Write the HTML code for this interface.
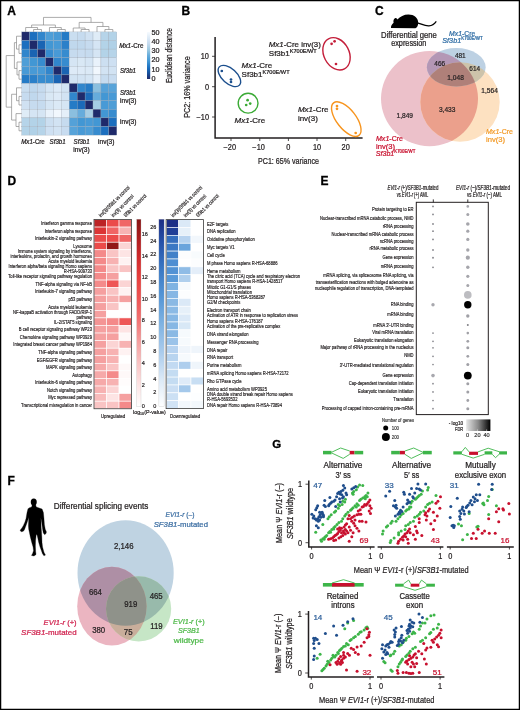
<!DOCTYPE html>
<html><head><meta charset="utf-8"><style>
html,body{margin:0;padding:0;background:#fff;overflow:hidden;width:520px;height:710px;}
svg{display:block;will-change:transform;}
text{font-family:"Liberation Sans",sans-serif;}
</style></head><body>
<svg width="520" height="710" viewBox="0 0 520 710" font-family="Liberation Sans, sans-serif" fill="#231f20">
<rect x="0" y="0" width="520" height="710" fill="#fff"/>
<text x="7.20" y="14.70" font-size="12" font-weight="bold" fill="#000" stroke="#000" stroke-width="0.3">A</text>
<rect x="21.70" y="31.90" width="7.92" height="8.60" fill="#1f2a6b" stroke="#97a3b0" stroke-width="0.28"/>
<rect x="29.62" y="31.90" width="7.92" height="8.60" fill="#1c6fbf" stroke="#97a3b0" stroke-width="0.28"/>
<rect x="37.55" y="31.90" width="7.92" height="8.60" fill="#3186cc" stroke="#97a3b0" stroke-width="0.28"/>
<rect x="45.47" y="31.90" width="7.92" height="8.60" fill="#4e9ed7" stroke="#97a3b0" stroke-width="0.28"/>
<rect x="53.40" y="31.90" width="7.92" height="8.60" fill="#489ad6" stroke="#97a3b0" stroke-width="0.28"/>
<rect x="61.33" y="31.90" width="7.92" height="8.60" fill="#257bc6" stroke="#97a3b0" stroke-width="0.28"/>
<rect x="69.25" y="31.90" width="7.92" height="8.60" fill="#cadef0" stroke="#97a3b0" stroke-width="0.28"/>
<rect x="77.17" y="31.90" width="7.92" height="8.60" fill="#c6dbef" stroke="#97a3b0" stroke-width="0.28"/>
<rect x="85.10" y="31.90" width="7.92" height="8.60" fill="#d0e1f2" stroke="#97a3b0" stroke-width="0.28"/>
<rect x="93.03" y="31.90" width="7.92" height="8.60" fill="#dfecf7" stroke="#97a3b0" stroke-width="0.28"/>
<rect x="100.95" y="31.90" width="7.92" height="8.60" fill="#b6d4e9" stroke="#97a3b0" stroke-width="0.28"/>
<rect x="108.88" y="31.90" width="7.92" height="8.60" fill="#b3d3e8" stroke="#97a3b0" stroke-width="0.28"/>
<rect x="21.70" y="40.50" width="7.92" height="8.60" fill="#1c6fbf" stroke="#97a3b0" stroke-width="0.28"/>
<rect x="29.62" y="40.50" width="7.92" height="8.60" fill="#1f2a6b" stroke="#97a3b0" stroke-width="0.28"/>
<rect x="37.55" y="40.50" width="7.92" height="8.60" fill="#1a64b3" stroke="#97a3b0" stroke-width="0.28"/>
<rect x="45.47" y="40.50" width="7.92" height="8.60" fill="#4297d4" stroke="#97a3b0" stroke-width="0.28"/>
<rect x="53.40" y="40.50" width="7.92" height="8.60" fill="#489ad6" stroke="#97a3b0" stroke-width="0.28"/>
<rect x="61.33" y="40.50" width="7.92" height="8.60" fill="#2b80c9" stroke="#97a3b0" stroke-width="0.28"/>
<rect x="69.25" y="40.50" width="7.92" height="8.60" fill="#c0d8ed" stroke="#97a3b0" stroke-width="0.28"/>
<rect x="77.17" y="40.50" width="7.92" height="8.60" fill="#c0d8ed" stroke="#97a3b0" stroke-width="0.28"/>
<rect x="85.10" y="40.50" width="7.92" height="8.60" fill="#c6dbef" stroke="#97a3b0" stroke-width="0.28"/>
<rect x="93.03" y="40.50" width="7.92" height="8.60" fill="#d5e5f4" stroke="#97a3b0" stroke-width="0.28"/>
<rect x="100.95" y="40.50" width="7.92" height="8.60" fill="#b3d3e8" stroke="#97a3b0" stroke-width="0.28"/>
<rect x="108.88" y="40.50" width="7.92" height="8.60" fill="#b0d1e7" stroke="#97a3b0" stroke-width="0.28"/>
<rect x="21.70" y="49.10" width="7.92" height="8.60" fill="#3186cc" stroke="#97a3b0" stroke-width="0.28"/>
<rect x="29.62" y="49.10" width="7.92" height="8.60" fill="#1a64b3" stroke="#97a3b0" stroke-width="0.28"/>
<rect x="37.55" y="49.10" width="7.92" height="8.60" fill="#1f2a6b" stroke="#97a3b0" stroke-width="0.28"/>
<rect x="45.47" y="49.10" width="7.92" height="8.60" fill="#378ccf" stroke="#97a3b0" stroke-width="0.28"/>
<rect x="53.40" y="49.10" width="7.92" height="8.60" fill="#489ad6" stroke="#97a3b0" stroke-width="0.28"/>
<rect x="61.33" y="49.10" width="7.92" height="8.60" fill="#378ccf" stroke="#97a3b0" stroke-width="0.28"/>
<rect x="69.25" y="49.10" width="7.92" height="8.60" fill="#c6dbef" stroke="#97a3b0" stroke-width="0.28"/>
<rect x="77.17" y="49.10" width="7.92" height="8.60" fill="#c8dcf0" stroke="#97a3b0" stroke-width="0.28"/>
<rect x="85.10" y="49.10" width="7.92" height="8.60" fill="#c6dbef" stroke="#97a3b0" stroke-width="0.28"/>
<rect x="93.03" y="49.10" width="7.92" height="8.60" fill="#d5e5f4" stroke="#97a3b0" stroke-width="0.28"/>
<rect x="100.95" y="49.10" width="7.92" height="8.60" fill="#b3d3e8" stroke="#97a3b0" stroke-width="0.28"/>
<rect x="108.88" y="49.10" width="7.92" height="8.60" fill="#b6d4e9" stroke="#97a3b0" stroke-width="0.28"/>
<rect x="21.70" y="57.70" width="7.92" height="8.60" fill="#4e9ed7" stroke="#97a3b0" stroke-width="0.28"/>
<rect x="29.62" y="57.70" width="7.92" height="8.60" fill="#4297d4" stroke="#97a3b0" stroke-width="0.28"/>
<rect x="37.55" y="57.70" width="7.92" height="8.60" fill="#378ccf" stroke="#97a3b0" stroke-width="0.28"/>
<rect x="45.47" y="57.70" width="7.92" height="8.60" fill="#1f2a6b" stroke="#97a3b0" stroke-width="0.28"/>
<rect x="53.40" y="57.70" width="7.92" height="8.60" fill="#3186cc" stroke="#97a3b0" stroke-width="0.28"/>
<rect x="61.33" y="57.70" width="7.92" height="8.60" fill="#378ccf" stroke="#97a3b0" stroke-width="0.28"/>
<rect x="69.25" y="57.70" width="7.92" height="8.60" fill="#d5e5f4" stroke="#97a3b0" stroke-width="0.28"/>
<rect x="77.17" y="57.70" width="7.92" height="8.60" fill="#d9e8f5" stroke="#97a3b0" stroke-width="0.28"/>
<rect x="85.10" y="57.70" width="7.92" height="8.60" fill="#d5e5f4" stroke="#97a3b0" stroke-width="0.28"/>
<rect x="93.03" y="57.70" width="7.92" height="8.60" fill="#e9f2fb" stroke="#97a3b0" stroke-width="0.28"/>
<rect x="100.95" y="57.70" width="7.92" height="8.60" fill="#ccdff1" stroke="#97a3b0" stroke-width="0.28"/>
<rect x="108.88" y="57.70" width="7.92" height="8.60" fill="#cee0f2" stroke="#97a3b0" stroke-width="0.28"/>
<rect x="21.70" y="66.30" width="7.92" height="8.60" fill="#489ad6" stroke="#97a3b0" stroke-width="0.28"/>
<rect x="29.62" y="66.30" width="7.92" height="8.60" fill="#489ad6" stroke="#97a3b0" stroke-width="0.28"/>
<rect x="37.55" y="66.30" width="7.92" height="8.60" fill="#489ad6" stroke="#97a3b0" stroke-width="0.28"/>
<rect x="45.47" y="66.30" width="7.92" height="8.60" fill="#3186cc" stroke="#97a3b0" stroke-width="0.28"/>
<rect x="53.40" y="66.30" width="7.92" height="8.60" fill="#1f2a6b" stroke="#97a3b0" stroke-width="0.28"/>
<rect x="61.33" y="66.30" width="7.92" height="8.60" fill="#1a64b3" stroke="#97a3b0" stroke-width="0.28"/>
<rect x="69.25" y="66.30" width="7.92" height="8.60" fill="#ddeaf7" stroke="#97a3b0" stroke-width="0.28"/>
<rect x="77.17" y="66.30" width="7.92" height="8.60" fill="#ddeaf7" stroke="#97a3b0" stroke-width="0.28"/>
<rect x="85.10" y="66.30" width="7.92" height="8.60" fill="#dbe9f6" stroke="#97a3b0" stroke-width="0.28"/>
<rect x="93.03" y="66.30" width="7.92" height="8.60" fill="#f1f7fd" stroke="#97a3b0" stroke-width="0.28"/>
<rect x="100.95" y="66.30" width="7.92" height="8.60" fill="#d2e3f3" stroke="#97a3b0" stroke-width="0.28"/>
<rect x="108.88" y="66.30" width="7.92" height="8.60" fill="#d2e3f3" stroke="#97a3b0" stroke-width="0.28"/>
<rect x="21.70" y="74.90" width="7.92" height="8.60" fill="#257bc6" stroke="#97a3b0" stroke-width="0.28"/>
<rect x="29.62" y="74.90" width="7.92" height="8.60" fill="#2b80c9" stroke="#97a3b0" stroke-width="0.28"/>
<rect x="37.55" y="74.90" width="7.92" height="8.60" fill="#378ccf" stroke="#97a3b0" stroke-width="0.28"/>
<rect x="45.47" y="74.90" width="7.92" height="8.60" fill="#378ccf" stroke="#97a3b0" stroke-width="0.28"/>
<rect x="53.40" y="74.90" width="7.92" height="8.60" fill="#1a64b3" stroke="#97a3b0" stroke-width="0.28"/>
<rect x="61.33" y="74.90" width="7.92" height="8.60" fill="#1f2a6b" stroke="#97a3b0" stroke-width="0.28"/>
<rect x="69.25" y="74.90" width="7.92" height="8.60" fill="#d2e3f3" stroke="#97a3b0" stroke-width="0.28"/>
<rect x="77.17" y="74.90" width="7.92" height="8.60" fill="#d2e3f3" stroke="#97a3b0" stroke-width="0.28"/>
<rect x="85.10" y="74.90" width="7.92" height="8.60" fill="#d5e5f4" stroke="#97a3b0" stroke-width="0.28"/>
<rect x="93.03" y="74.90" width="7.92" height="8.60" fill="#e5eff9" stroke="#97a3b0" stroke-width="0.28"/>
<rect x="100.95" y="74.90" width="7.92" height="8.60" fill="#c6dbef" stroke="#97a3b0" stroke-width="0.28"/>
<rect x="108.88" y="74.90" width="7.92" height="8.60" fill="#c8dcf0" stroke="#97a3b0" stroke-width="0.28"/>
<rect x="21.70" y="83.50" width="7.92" height="8.60" fill="#cadef0" stroke="#97a3b0" stroke-width="0.28"/>
<rect x="29.62" y="83.50" width="7.92" height="8.60" fill="#c0d8ed" stroke="#97a3b0" stroke-width="0.28"/>
<rect x="37.55" y="83.50" width="7.92" height="8.60" fill="#c6dbef" stroke="#97a3b0" stroke-width="0.28"/>
<rect x="45.47" y="83.50" width="7.92" height="8.60" fill="#d5e5f4" stroke="#97a3b0" stroke-width="0.28"/>
<rect x="53.40" y="83.50" width="7.92" height="8.60" fill="#ddeaf7" stroke="#97a3b0" stroke-width="0.28"/>
<rect x="61.33" y="83.50" width="7.92" height="8.60" fill="#d2e3f3" stroke="#97a3b0" stroke-width="0.28"/>
<rect x="69.25" y="83.50" width="7.92" height="8.60" fill="#1f2a6b" stroke="#97a3b0" stroke-width="0.28"/>
<rect x="77.17" y="83.50" width="7.92" height="8.60" fill="#3186cc" stroke="#97a3b0" stroke-width="0.28"/>
<rect x="85.10" y="83.50" width="7.92" height="8.60" fill="#257bc6" stroke="#97a3b0" stroke-width="0.28"/>
<rect x="93.03" y="83.50" width="7.92" height="8.60" fill="#8abfdf" stroke="#97a3b0" stroke-width="0.28"/>
<rect x="100.95" y="83.50" width="7.92" height="8.60" fill="#54a1d8" stroke="#97a3b0" stroke-width="0.28"/>
<rect x="108.88" y="83.50" width="7.92" height="8.60" fill="#57a3d9" stroke="#97a3b0" stroke-width="0.28"/>
<rect x="21.70" y="92.10" width="7.92" height="8.60" fill="#c6dbef" stroke="#97a3b0" stroke-width="0.28"/>
<rect x="29.62" y="92.10" width="7.92" height="8.60" fill="#c0d8ed" stroke="#97a3b0" stroke-width="0.28"/>
<rect x="37.55" y="92.10" width="7.92" height="8.60" fill="#c8dcf0" stroke="#97a3b0" stroke-width="0.28"/>
<rect x="45.47" y="92.10" width="7.92" height="8.60" fill="#d9e8f5" stroke="#97a3b0" stroke-width="0.28"/>
<rect x="53.40" y="92.10" width="7.92" height="8.60" fill="#ddeaf7" stroke="#97a3b0" stroke-width="0.28"/>
<rect x="61.33" y="92.10" width="7.92" height="8.60" fill="#d2e3f3" stroke="#97a3b0" stroke-width="0.28"/>
<rect x="69.25" y="92.10" width="7.92" height="8.60" fill="#3186cc" stroke="#97a3b0" stroke-width="0.28"/>
<rect x="77.17" y="92.10" width="7.92" height="8.60" fill="#1f2a6b" stroke="#97a3b0" stroke-width="0.28"/>
<rect x="85.10" y="92.10" width="7.92" height="8.60" fill="#1b6ab9" stroke="#97a3b0" stroke-width="0.28"/>
<rect x="93.03" y="92.10" width="7.92" height="8.60" fill="#66acdc" stroke="#97a3b0" stroke-width="0.28"/>
<rect x="100.95" y="92.10" width="7.92" height="8.60" fill="#4297d4" stroke="#97a3b0" stroke-width="0.28"/>
<rect x="108.88" y="92.10" width="7.92" height="8.60" fill="#489ad6" stroke="#97a3b0" stroke-width="0.28"/>
<rect x="21.70" y="100.70" width="7.92" height="8.60" fill="#d0e1f2" stroke="#97a3b0" stroke-width="0.28"/>
<rect x="29.62" y="100.70" width="7.92" height="8.60" fill="#c6dbef" stroke="#97a3b0" stroke-width="0.28"/>
<rect x="37.55" y="100.70" width="7.92" height="8.60" fill="#c6dbef" stroke="#97a3b0" stroke-width="0.28"/>
<rect x="45.47" y="100.70" width="7.92" height="8.60" fill="#d5e5f4" stroke="#97a3b0" stroke-width="0.28"/>
<rect x="53.40" y="100.70" width="7.92" height="8.60" fill="#dbe9f6" stroke="#97a3b0" stroke-width="0.28"/>
<rect x="61.33" y="100.70" width="7.92" height="8.60" fill="#d5e5f4" stroke="#97a3b0" stroke-width="0.28"/>
<rect x="69.25" y="100.70" width="7.92" height="8.60" fill="#257bc6" stroke="#97a3b0" stroke-width="0.28"/>
<rect x="77.17" y="100.70" width="7.92" height="8.60" fill="#1b6ab9" stroke="#97a3b0" stroke-width="0.28"/>
<rect x="85.10" y="100.70" width="7.92" height="8.60" fill="#1f2a6b" stroke="#97a3b0" stroke-width="0.28"/>
<rect x="93.03" y="100.70" width="7.92" height="8.60" fill="#a6cde4" stroke="#97a3b0" stroke-width="0.28"/>
<rect x="100.95" y="100.70" width="7.92" height="8.60" fill="#489ad6" stroke="#97a3b0" stroke-width="0.28"/>
<rect x="108.88" y="100.70" width="7.92" height="8.60" fill="#4e9ed7" stroke="#97a3b0" stroke-width="0.28"/>
<rect x="21.70" y="109.30" width="7.92" height="8.60" fill="#dfecf7" stroke="#97a3b0" stroke-width="0.28"/>
<rect x="29.62" y="109.30" width="7.92" height="8.60" fill="#d5e5f4" stroke="#97a3b0" stroke-width="0.28"/>
<rect x="37.55" y="109.30" width="7.92" height="8.60" fill="#d5e5f4" stroke="#97a3b0" stroke-width="0.28"/>
<rect x="45.47" y="109.30" width="7.92" height="8.60" fill="#e9f2fb" stroke="#97a3b0" stroke-width="0.28"/>
<rect x="53.40" y="109.30" width="7.92" height="8.60" fill="#f1f7fd" stroke="#97a3b0" stroke-width="0.28"/>
<rect x="61.33" y="109.30" width="7.92" height="8.60" fill="#e5eff9" stroke="#97a3b0" stroke-width="0.28"/>
<rect x="69.25" y="109.30" width="7.92" height="8.60" fill="#8abfdf" stroke="#97a3b0" stroke-width="0.28"/>
<rect x="77.17" y="109.30" width="7.92" height="8.60" fill="#66acdc" stroke="#97a3b0" stroke-width="0.28"/>
<rect x="85.10" y="109.30" width="7.92" height="8.60" fill="#a6cde4" stroke="#97a3b0" stroke-width="0.28"/>
<rect x="93.03" y="109.30" width="7.92" height="8.60" fill="#1f2a6b" stroke="#97a3b0" stroke-width="0.28"/>
<rect x="100.95" y="109.30" width="7.92" height="8.60" fill="#4297d4" stroke="#97a3b0" stroke-width="0.28"/>
<rect x="108.88" y="109.30" width="7.92" height="8.60" fill="#378ccf" stroke="#97a3b0" stroke-width="0.28"/>
<rect x="21.70" y="117.90" width="7.92" height="8.60" fill="#b6d4e9" stroke="#97a3b0" stroke-width="0.28"/>
<rect x="29.62" y="117.90" width="7.92" height="8.60" fill="#b3d3e8" stroke="#97a3b0" stroke-width="0.28"/>
<rect x="37.55" y="117.90" width="7.92" height="8.60" fill="#b3d3e8" stroke="#97a3b0" stroke-width="0.28"/>
<rect x="45.47" y="117.90" width="7.92" height="8.60" fill="#ccdff1" stroke="#97a3b0" stroke-width="0.28"/>
<rect x="53.40" y="117.90" width="7.92" height="8.60" fill="#d2e3f3" stroke="#97a3b0" stroke-width="0.28"/>
<rect x="61.33" y="117.90" width="7.92" height="8.60" fill="#c6dbef" stroke="#97a3b0" stroke-width="0.28"/>
<rect x="69.25" y="117.90" width="7.92" height="8.60" fill="#54a1d8" stroke="#97a3b0" stroke-width="0.28"/>
<rect x="77.17" y="117.90" width="7.92" height="8.60" fill="#4297d4" stroke="#97a3b0" stroke-width="0.28"/>
<rect x="85.10" y="117.90" width="7.92" height="8.60" fill="#489ad6" stroke="#97a3b0" stroke-width="0.28"/>
<rect x="93.03" y="117.90" width="7.92" height="8.60" fill="#4297d4" stroke="#97a3b0" stroke-width="0.28"/>
<rect x="100.95" y="117.90" width="7.92" height="8.60" fill="#1f2a6b" stroke="#97a3b0" stroke-width="0.28"/>
<rect x="108.88" y="117.90" width="7.92" height="8.60" fill="#1c6fbf" stroke="#97a3b0" stroke-width="0.28"/>
<rect x="21.70" y="126.50" width="7.92" height="8.60" fill="#b3d3e8" stroke="#97a3b0" stroke-width="0.28"/>
<rect x="29.62" y="126.50" width="7.92" height="8.60" fill="#b0d1e7" stroke="#97a3b0" stroke-width="0.28"/>
<rect x="37.55" y="126.50" width="7.92" height="8.60" fill="#b6d4e9" stroke="#97a3b0" stroke-width="0.28"/>
<rect x="45.47" y="126.50" width="7.92" height="8.60" fill="#cee0f2" stroke="#97a3b0" stroke-width="0.28"/>
<rect x="53.40" y="126.50" width="7.92" height="8.60" fill="#d2e3f3" stroke="#97a3b0" stroke-width="0.28"/>
<rect x="61.33" y="126.50" width="7.92" height="8.60" fill="#c8dcf0" stroke="#97a3b0" stroke-width="0.28"/>
<rect x="69.25" y="126.50" width="7.92" height="8.60" fill="#57a3d9" stroke="#97a3b0" stroke-width="0.28"/>
<rect x="77.17" y="126.50" width="7.92" height="8.60" fill="#489ad6" stroke="#97a3b0" stroke-width="0.28"/>
<rect x="85.10" y="126.50" width="7.92" height="8.60" fill="#4e9ed7" stroke="#97a3b0" stroke-width="0.28"/>
<rect x="93.03" y="126.50" width="7.92" height="8.60" fill="#378ccf" stroke="#97a3b0" stroke-width="0.28"/>
<rect x="100.95" y="126.50" width="7.92" height="8.60" fill="#1c6fbf" stroke="#97a3b0" stroke-width="0.28"/>
<rect x="108.88" y="126.50" width="7.92" height="8.60" fill="#1f2a6b" stroke="#97a3b0" stroke-width="0.28"/>
<g stroke="#8a8a8a" stroke-width="0.7" fill="none"><path d="M33.59 31.90V29.50H41.51V31.90"/><path d="M25.66 31.90V27.50H37.55V29.50"/><path d="M57.36 31.90V29.50H65.29V31.90"/><path d="M49.44 31.90V27.50H61.32V29.50"/><path d="M31.61 27.50V25.00H55.38V27.50"/><path d="M81.14 31.90V29.50H89.06V31.90"/><path d="M73.21 31.90V28.00H85.10V29.50"/><path d="M104.91 31.90V29.50H112.84V31.90"/><path d="M96.99 31.90V26.50H108.88V29.50"/><path d="M79.16 28.00V22.40H102.93V26.50"/><path d="M43.49 25.00V17.40H91.04V22.40"/><path d="M21.70 44.80H19.00V53.40H21.70"/><path d="M21.70 36.20H16.50V49.10H19.00"/><path d="M21.70 70.60H19.00V79.20H21.70"/><path d="M21.70 62.00H17.00V74.90H19.00"/><path d="M16.50 42.65H14.40V68.45H17.00"/><path d="M21.70 96.40H19.00V105.00H21.70"/><path d="M21.70 87.80H16.50V100.70H19.00"/><path d="M21.70 122.20H19.00V130.80H21.70"/><path d="M21.70 113.60H16.00V126.50H19.00"/><path d="M16.50 94.25H11.60V120.05H16.00"/><path d="M14.40 55.55H6.20V107.15H11.60"/></g>
<text x="119.20" y="47.60" font-size="6.6" textLength="24.20" lengthAdjust="spacingAndGlyphs" stroke="#231f20" stroke-width="0.24"><tspan font-style="italic">Mx1</tspan>-Cre</text>
<text x="120.00" y="73.00" font-size="6.6" textLength="16.00" lengthAdjust="spacingAndGlyphs" stroke="#231f20" stroke-width="0.24"><tspan font-style="italic">Sf3b1</tspan></text>
<text x="120.00" y="95.40" font-size="6.6" textLength="16.00" lengthAdjust="spacingAndGlyphs" stroke="#231f20" stroke-width="0.24"><tspan font-style="italic">Sf3b1</tspan></text>
<text x="120.00" y="103.20" font-size="6.6" textLength="16.50" lengthAdjust="spacingAndGlyphs" stroke="#231f20" stroke-width="0.24">inv(3)</text>
<text x="120.00" y="124.40" font-size="6.6" textLength="16.50" lengthAdjust="spacingAndGlyphs" stroke="#231f20" stroke-width="0.24">inv(3)</text>
<text x="21.20" y="144.40" font-size="6.6" textLength="23.60" lengthAdjust="spacingAndGlyphs" stroke="#231f20" stroke-width="0.24"><tspan font-style="italic">Mx1</tspan>-Cre</text>
<text x="49.60" y="144.40" font-size="6.6" textLength="16.00" lengthAdjust="spacingAndGlyphs" stroke="#231f20" stroke-width="0.24"><tspan font-style="italic">Sf3b1</tspan></text>
<text x="73.60" y="144.40" font-size="6.6" textLength="16.00" lengthAdjust="spacingAndGlyphs" stroke="#231f20" stroke-width="0.24"><tspan font-style="italic">Sf3b1</tspan></text>
<text x="81.50" y="152.40" font-size="6.6" text-anchor="middle" textLength="16.50" lengthAdjust="spacingAndGlyphs" stroke="#231f20" stroke-width="0.24">inv(3)</text>
<text x="98.00" y="144.40" font-size="6.6" textLength="16.50" lengthAdjust="spacingAndGlyphs" stroke="#231f20" stroke-width="0.24">inv(3)</text>
<defs><linearGradient id="gA" x1="0" y1="1" x2="0" y2="0"><stop offset="0.000" stop-color="#1f2a6b"/><stop offset="0.125" stop-color="#16509d"/><stop offset="0.250" stop-color="#1c72c2"/><stop offset="0.375" stop-color="#4196d4"/><stop offset="0.500" stop-color="#66acdc"/><stop offset="0.625" stop-color="#9ecae1"/><stop offset="0.750" stop-color="#c6dbef"/><stop offset="0.875" stop-color="#deebf7"/><stop offset="1.000" stop-color="#f7fbff"/></linearGradient></defs>
<rect x="147" y="32" width="3.2" height="47" fill="url(#gA)"/>
<text x="151.60" y="81.00" font-size="7.2" stroke="#231f20" stroke-width="0.24">0</text>
<text x="151.60" y="71.70" font-size="7.2" stroke="#231f20" stroke-width="0.24">10</text>
<text x="151.60" y="62.40" font-size="7.2" stroke="#231f20" stroke-width="0.24">20</text>
<text x="151.60" y="53.10" font-size="7.2" stroke="#231f20" stroke-width="0.24">30</text>
<text x="151.60" y="43.80" font-size="7.2" stroke="#231f20" stroke-width="0.24">40</text>
<text x="151.60" y="34.50" font-size="7.2" stroke="#231f20" stroke-width="0.24">50</text>
<text x="171.80" y="55.60" font-size="8.6" text-anchor="middle" textLength="55.00" lengthAdjust="spacingAndGlyphs" transform="rotate(-90 171.80 55.60)" stroke="#231f20" stroke-width="0.24">Euclidean distance</text>
<text x="181.60" y="15.00" font-size="12" font-weight="bold" fill="#000" stroke="#000" stroke-width="0.3">B</text>
<path d="M215.1 37.0V137.9H362.6" fill="none" stroke="#231f20" stroke-width="1.5"/>
<path d="M212 56.3H215" stroke="#231f20" stroke-width="0.8"/>
<text x="209.00" y="59.30" font-size="8.4" text-anchor="end" textLength="8.22" lengthAdjust="spacingAndGlyphs" stroke="#231f20" stroke-width="0.24">10</text>
<path d="M212 86.7H215" stroke="#231f20" stroke-width="0.8"/>
<text x="209.00" y="89.70" font-size="8.4" text-anchor="end" textLength="4.11" lengthAdjust="spacingAndGlyphs" stroke="#231f20" stroke-width="0.24">0</text>
<path d="M212 117.0H215" stroke="#231f20" stroke-width="0.8"/>
<text x="209.00" y="120.00" font-size="8.4" text-anchor="end" textLength="12.54" lengthAdjust="spacingAndGlyphs" stroke="#231f20" stroke-width="0.24">−10</text>
<path d="M231.0 138.2V141" stroke="#231f20" stroke-width="0.8"/>
<text x="229.80" y="150.40" font-size="8.4" text-anchor="middle" textLength="12.54" lengthAdjust="spacingAndGlyphs" stroke="#231f20" stroke-width="0.24">−20</text>
<path d="M259.8 138.2V141" stroke="#231f20" stroke-width="0.8"/>
<text x="258.60" y="150.40" font-size="8.4" text-anchor="middle" textLength="12.54" lengthAdjust="spacingAndGlyphs" stroke="#231f20" stroke-width="0.24">−10</text>
<path d="M288.4 138.2V141" stroke="#231f20" stroke-width="0.8"/>
<text x="288.40" y="150.40" font-size="8.4" text-anchor="middle" textLength="4.11" lengthAdjust="spacingAndGlyphs" stroke="#231f20" stroke-width="0.24">0</text>
<path d="M317.0 138.2V141" stroke="#231f20" stroke-width="0.8"/>
<text x="317.00" y="150.40" font-size="8.4" text-anchor="middle" textLength="8.22" lengthAdjust="spacingAndGlyphs" stroke="#231f20" stroke-width="0.24">10</text>
<path d="M345.7 138.2V141" stroke="#231f20" stroke-width="0.8"/>
<text x="345.70" y="150.40" font-size="8.4" text-anchor="middle" textLength="8.22" lengthAdjust="spacingAndGlyphs" stroke="#231f20" stroke-width="0.24">20</text>
<text x="258.00" y="163.60" font-size="8.8" textLength="60.90" lengthAdjust="spacingAndGlyphs" stroke="#231f20" stroke-width="0.24">PC1: 65% variance</text>
<text x="189.80" y="87.00" font-size="8.8" text-anchor="middle" textLength="61.30" lengthAdjust="spacingAndGlyphs" transform="rotate(-90 189.80 87.00)" stroke="#231f20" stroke-width="0.24">PC2: 16% variance</text>
<ellipse cx="229.4" cy="76" rx="13.6" ry="7.4" transform="rotate(42 229.4 76)" fill="none" stroke="#1c4f8d" stroke-width="1.4"/>
<circle cx="248.1" cy="103.2" r="9.9" fill="none" stroke="#3aaa35" stroke-width="1.4"/>
<ellipse cx="336.5" cy="53.8" rx="17" ry="12.6" transform="rotate(62 336.5 53.8)" fill="none" stroke="#c41e3a" stroke-width="1.4"/>
<ellipse cx="346.3" cy="119.1" rx="20.6" ry="9.6" transform="rotate(52 346.3 119.1)" fill="none" stroke="#f7941d" stroke-width="1.4"/>
<circle cx="221.8" cy="71.0" r="1.35" fill="#1c4f8d"/>
<circle cx="231.0" cy="79.5" r="1.35" fill="#1c4f8d"/>
<circle cx="231.0" cy="82.0" r="1.35" fill="#1c4f8d"/>
<circle cx="247.6" cy="100.2" r="1.35" fill="#3aaa35"/>
<circle cx="246.2" cy="105.0" r="1.35" fill="#3aaa35"/>
<circle cx="250.2" cy="103.6" r="1.35" fill="#3aaa35"/>
<circle cx="331.6" cy="43.8" r="1.35" fill="#c41e3a"/>
<circle cx="334.6" cy="41.3" r="1.35" fill="#c41e3a"/>
<circle cx="336.0" cy="64.0" r="1.35" fill="#c41e3a"/>
<circle cx="337.0" cy="106.0" r="1.35" fill="#f7941d"/>
<circle cx="337.0" cy="108.8" r="1.35" fill="#f7941d"/>
<circle cx="355.7" cy="133.0" r="1.35" fill="#f7941d"/>
<text x="241.60" y="67.80" font-size="8.0" textLength="30.60" lengthAdjust="spacingAndGlyphs" stroke="#231f20" stroke-width="0.24"><tspan font-style="italic">Mx1</tspan>-Cre</text>
<text x="241.60" y="77.20" font-size="8.0" stroke="#231f20" stroke-width="0.24">Sf3b1<tspan dy="-3.2" font-size="5.6">K700E/WT</tspan></text>
<text x="268.80" y="46.60" font-size="8.0" textLength="52.00" lengthAdjust="spacingAndGlyphs" stroke="#231f20" stroke-width="0.24"><tspan font-style="italic">Mx1</tspan>-Cre inv(3)</text>
<text x="268.80" y="55.80" font-size="8.0" stroke="#231f20" stroke-width="0.24">Sf3b1<tspan dy="-3.2" font-size="5.6">K700E/WT</tspan></text>
<text x="297.90" y="111.60" font-size="8.0" textLength="30.60" lengthAdjust="spacingAndGlyphs" stroke="#231f20" stroke-width="0.24"><tspan font-style="italic">Mx1</tspan>-Cre</text>
<text x="297.90" y="121.40" font-size="8.0" stroke="#231f20" stroke-width="0.24">inv(3)</text>
<text x="234.60" y="122.80" font-size="8.0" textLength="30.60" lengthAdjust="spacingAndGlyphs" stroke="#231f20" stroke-width="0.24"><tspan font-style="italic">Mx1</tspan>-Cre</text>
<text x="375.00" y="14.80" font-size="12" font-weight="bold" fill="#000" stroke="#000" stroke-width="0.3">C</text>
<path d="M391.0 28.0 C390.8 26.2 391.8 24.3 393.6 22.8 C393.2 21.2 393.4 19.0 395.0 18.2 C396.2 17.7 397.2 18.6 397.4 19.6 C400.0 16.6 404.0 14.6 408.4 14.6 C414.2 14.6 418.0 18.0 418.2 22.6 C418.3 25.6 417.2 27.6 415.4 28.3 Z" fill="#000"/>
<path d="M417.2 22.8 C421.0 23.6 424.4 26.2 429.0 25.9 C432.2 25.7 434.6 23.8 436.3 21.4" fill="none" stroke="#000" stroke-width="1.2"/>
<text x="409.00" y="37.80" font-size="8.2" text-anchor="middle" textLength="55.80" lengthAdjust="spacingAndGlyphs" stroke="#231f20" stroke-width="0.24">Differential gene</text>
<text x="408.80" y="46.20" font-size="8.2" text-anchor="middle" textLength="35.30" lengthAdjust="spacingAndGlyphs" stroke="#231f20" stroke-width="0.24">expression</text>
<defs><clipPath id="cP"><ellipse cx="429.5" cy="98.6" rx="48.5" ry="47.6"/></clipPath><clipPath id="cO"><circle cx="460.0" cy="102.0" r="39.7"/></clipPath><clipPath id="cB"><ellipse cx="456.25" cy="67.3" rx="29.4" ry="19.2"/></clipPath></defs>
<ellipse cx="429.5" cy="98.6" rx="48.5" ry="47.6" fill="#ecc1ca"/>
<circle cx="460.0" cy="102.0" r="39.7" fill="#fde1c1"/>
<ellipse cx="456.25" cy="67.3" rx="29.4" ry="19.2" fill="#bdd1e3"/>
<g clip-path="url(#cP)"><circle cx="460.0" cy="102.0" r="39.7" fill="#eba08c"/><ellipse cx="456.25" cy="67.3" rx="29.4" ry="19.2" fill="#b497b5"/></g>
<g clip-path="url(#cO)"><ellipse cx="456.25" cy="67.3" rx="29.4" ry="19.2" fill="#cdc3aa"/></g>
<g clip-path="url(#cO)"><g clip-path="url(#cP)"><ellipse cx="456.25" cy="67.3" rx="29.4" ry="19.2" fill="#af8079"/></g></g>
<text x="460.30" y="57.65" font-size="8.0" text-anchor="middle" textLength="10.80" lengthAdjust="spacingAndGlyphs" stroke="#231f20" stroke-width="0.24">481</text>
<text x="439.75" y="65.65" font-size="8.0" text-anchor="middle" textLength="10.80" lengthAdjust="spacingAndGlyphs" stroke="#231f20" stroke-width="0.24">466</text>
<text x="474.75" y="71.00" font-size="8.0" text-anchor="middle" textLength="10.80" lengthAdjust="spacingAndGlyphs" stroke="#231f20" stroke-width="0.24">614</text>
<text x="455.60" y="79.80" font-size="8.0" text-anchor="middle" textLength="16.50" lengthAdjust="spacingAndGlyphs" stroke="#231f20" stroke-width="0.24">1,048</text>
<text x="489.60" y="92.50" font-size="8.0" text-anchor="middle" textLength="16.50" lengthAdjust="spacingAndGlyphs" stroke="#231f20" stroke-width="0.24">1,564</text>
<text x="447.20" y="111.50" font-size="8.0" text-anchor="middle" textLength="16.50" lengthAdjust="spacingAndGlyphs" stroke="#231f20" stroke-width="0.24">3,433</text>
<text x="404.80" y="118.30" font-size="8.0" text-anchor="middle" textLength="16.50" lengthAdjust="spacingAndGlyphs" stroke="#231f20" stroke-width="0.24">1,849</text>
<text x="462.20" y="36.30" font-size="7.8" text-anchor="middle" fill="#2e6ca4" textLength="26.20" lengthAdjust="spacingAndGlyphs" stroke="#2e6ca4" stroke-width="0.24"><tspan font-style="italic">Mx1</tspan>-Cre</text>
<text x="442.30" y="43.40" font-size="7.8" fill="#2e6ca4" textLength="40.40" lengthAdjust="spacingAndGlyphs" stroke="#2e6ca4" stroke-width="0.24"><tspan font-style="italic">Sf3b1</tspan><tspan dy="-3.0" font-size="4.8">K700E/WT</tspan></text>
<text x="376.00" y="140.80" font-size="7.6" fill="#c8102e" textLength="27.00" lengthAdjust="spacingAndGlyphs" stroke="#c8102e" stroke-width="0.24"><tspan font-style="italic">Mx1</tspan>-Cre</text>
<text x="376.00" y="148.80" font-size="7.6" fill="#c8102e" stroke="#c8102e" stroke-width="0.24">inv(3)</text>
<text x="375.80" y="156.00" font-size="7.8" fill="#c8102e" textLength="39.50" lengthAdjust="spacingAndGlyphs" stroke="#c8102e" stroke-width="0.24"><tspan font-style="italic">Sf3b1</tspan><tspan dy="-3.0" font-size="4.8">K700E/WT</tspan></text>
<text x="486.00" y="134.40" font-size="7.6" fill="#f39c2b" textLength="27.00" lengthAdjust="spacingAndGlyphs" stroke="#f39c2b" stroke-width="0.24"><tspan font-style="italic">Mx1</tspan>-Cre</text>
<text x="486.00" y="142.20" font-size="7.6" fill="#f39c2b" stroke="#f39c2b" stroke-width="0.24">inv(3)</text>
<text x="7.40" y="184.80" font-size="12" font-weight="bold" fill="#000" stroke="#000" stroke-width="0.3">D</text>
<rect x="94.00" y="219.50" width="12.52" height="7.57" fill="#bc2325" stroke="#fff" stroke-width="0.6"/>
<rect x="106.52" y="219.50" width="12.52" height="7.57" fill="#eb4b4a" stroke="#fff" stroke-width="0.6"/>
<rect x="119.04" y="219.50" width="12.52" height="7.57" fill="#f06565" stroke="#fff" stroke-width="0.6"/>
<rect x="94.00" y="227.07" width="12.52" height="7.57" fill="#dc3535" stroke="#fff" stroke-width="0.6"/>
<rect x="106.52" y="227.07" width="12.52" height="7.57" fill="#f06565" stroke="#fff" stroke-width="0.6"/>
<rect x="119.04" y="227.07" width="12.52" height="7.57" fill="#f7b2b2" stroke="#fff" stroke-width="0.6"/>
<rect x="94.00" y="234.64" width="12.52" height="7.57" fill="#eb4b4a" stroke="#fff" stroke-width="0.6"/>
<rect x="106.52" y="234.64" width="12.52" height="7.57" fill="#eb4b4a" stroke="#fff" stroke-width="0.6"/>
<rect x="119.04" y="234.64" width="12.52" height="7.57" fill="#f06565" stroke="#fff" stroke-width="0.6"/>
<rect x="94.00" y="242.21" width="12.52" height="7.57" fill="#eb4b4a" stroke="#fff" stroke-width="0.6"/>
<rect x="106.52" y="242.21" width="12.52" height="7.57" fill="#911717" stroke="#fff" stroke-width="0.6"/>
<rect x="119.04" y="242.21" width="12.52" height="7.57" fill="#fbd4d4" stroke="#fff" stroke-width="0.6"/>
<rect x="94.00" y="249.78" width="12.52" height="7.57" fill="#f48a8a" stroke="#fff" stroke-width="0.6"/>
<rect x="106.52" y="249.78" width="12.52" height="7.57" fill="#f9c4c4" stroke="#fff" stroke-width="0.6"/>
<rect x="119.04" y="249.78" width="12.52" height="7.57" fill="#fde4e4" stroke="#fff" stroke-width="0.6"/>
<rect x="94.00" y="257.35" width="12.52" height="7.57" fill="#f48a8a" stroke="#fff" stroke-width="0.6"/>
<rect x="106.52" y="257.35" width="12.52" height="7.57" fill="#f7b2b2" stroke="#fff" stroke-width="0.6"/>
<rect x="119.04" y="257.35" width="12.52" height="7.57" fill="#fef2f2" stroke="#fff" stroke-width="0.6"/>
<rect x="94.00" y="264.92" width="12.52" height="7.57" fill="#f48a8a" stroke="#fff" stroke-width="0.6"/>
<rect x="106.52" y="264.92" width="12.52" height="7.57" fill="#f9c4c4" stroke="#fff" stroke-width="0.6"/>
<rect x="119.04" y="264.92" width="12.52" height="7.57" fill="#f9c4c4" stroke="#fff" stroke-width="0.6"/>
<rect x="94.00" y="272.49" width="12.52" height="7.57" fill="#f48a8a" stroke="#fff" stroke-width="0.6"/>
<rect x="106.52" y="272.49" width="12.52" height="7.57" fill="#f5a0a0" stroke="#fff" stroke-width="0.6"/>
<rect x="119.04" y="272.49" width="12.52" height="7.57" fill="#ffffff" stroke="#fff" stroke-width="0.6"/>
<rect x="94.00" y="280.06" width="12.52" height="7.57" fill="#f48a8a" stroke="#fff" stroke-width="0.6"/>
<rect x="106.52" y="280.06" width="12.52" height="7.57" fill="#ee5656" stroke="#fff" stroke-width="0.6"/>
<rect x="119.04" y="280.06" width="12.52" height="7.57" fill="#fbd4d4" stroke="#fff" stroke-width="0.6"/>
<rect x="94.00" y="287.63" width="12.52" height="7.57" fill="#f5a0a0" stroke="#fff" stroke-width="0.6"/>
<rect x="106.52" y="287.63" width="12.52" height="7.57" fill="#f9c4c4" stroke="#fff" stroke-width="0.6"/>
<rect x="119.04" y="287.63" width="12.52" height="7.57" fill="#fef2f2" stroke="#fff" stroke-width="0.6"/>
<rect x="94.00" y="295.20" width="12.52" height="7.57" fill="#f5a0a0" stroke="#fff" stroke-width="0.6"/>
<rect x="106.52" y="295.20" width="12.52" height="7.57" fill="#f7b2b2" stroke="#fff" stroke-width="0.6"/>
<rect x="119.04" y="295.20" width="12.52" height="7.57" fill="#f5a0a0" stroke="#fff" stroke-width="0.6"/>
<rect x="94.00" y="302.77" width="12.52" height="7.57" fill="#f5a0a0" stroke="#fff" stroke-width="0.6"/>
<rect x="106.52" y="302.77" width="12.52" height="7.57" fill="#f9c4c4" stroke="#fff" stroke-width="0.6"/>
<rect x="119.04" y="302.77" width="12.52" height="7.57" fill="#fffbfb" stroke="#fff" stroke-width="0.6"/>
<rect x="94.00" y="310.34" width="12.52" height="7.57" fill="#f5a0a0" stroke="#fff" stroke-width="0.6"/>
<rect x="106.52" y="310.34" width="12.52" height="7.57" fill="#ffffff" stroke="#fff" stroke-width="0.6"/>
<rect x="119.04" y="310.34" width="12.52" height="7.57" fill="#ffffff" stroke="#fff" stroke-width="0.6"/>
<rect x="94.00" y="317.91" width="12.52" height="7.57" fill="#f49595" stroke="#fff" stroke-width="0.6"/>
<rect x="106.52" y="317.91" width="12.52" height="7.57" fill="#f48a8a" stroke="#fff" stroke-width="0.6"/>
<rect x="119.04" y="317.91" width="12.52" height="7.57" fill="#ee5656" stroke="#fff" stroke-width="0.6"/>
<rect x="94.00" y="325.48" width="12.52" height="7.57" fill="#f5a0a0" stroke="#fff" stroke-width="0.6"/>
<rect x="106.52" y="325.48" width="12.52" height="7.57" fill="#f5a0a0" stroke="#fff" stroke-width="0.6"/>
<rect x="119.04" y="325.48" width="12.52" height="7.57" fill="#fde4e4" stroke="#fff" stroke-width="0.6"/>
<rect x="94.00" y="333.05" width="12.52" height="7.57" fill="#f5a0a0" stroke="#fff" stroke-width="0.6"/>
<rect x="106.52" y="333.05" width="12.52" height="7.57" fill="#f5a0a0" stroke="#fff" stroke-width="0.6"/>
<rect x="119.04" y="333.05" width="12.52" height="7.57" fill="#fef8f8" stroke="#fff" stroke-width="0.6"/>
<rect x="94.00" y="340.62" width="12.52" height="7.57" fill="#f5a0a0" stroke="#fff" stroke-width="0.6"/>
<rect x="106.52" y="340.62" width="12.52" height="7.57" fill="#fbd4d4" stroke="#fff" stroke-width="0.6"/>
<rect x="119.04" y="340.62" width="12.52" height="7.57" fill="#f7b2b2" stroke="#fff" stroke-width="0.6"/>
<rect x="94.00" y="348.19" width="12.52" height="7.57" fill="#f5a0a0" stroke="#fff" stroke-width="0.6"/>
<rect x="106.52" y="348.19" width="12.52" height="7.57" fill="#f7b2b2" stroke="#fff" stroke-width="0.6"/>
<rect x="119.04" y="348.19" width="12.52" height="7.57" fill="#fef2f2" stroke="#fff" stroke-width="0.6"/>
<rect x="94.00" y="355.76" width="12.52" height="7.57" fill="#f5a0a0" stroke="#fff" stroke-width="0.6"/>
<rect x="106.52" y="355.76" width="12.52" height="7.57" fill="#f7b2b2" stroke="#fff" stroke-width="0.6"/>
<rect x="119.04" y="355.76" width="12.52" height="7.57" fill="#ffffff" stroke="#fff" stroke-width="0.6"/>
<rect x="94.00" y="363.33" width="12.52" height="7.57" fill="#f6a9a9" stroke="#fff" stroke-width="0.6"/>
<rect x="106.52" y="363.33" width="12.52" height="7.57" fill="#f9c4c4" stroke="#fff" stroke-width="0.6"/>
<rect x="119.04" y="363.33" width="12.52" height="7.57" fill="#fef8f8" stroke="#fff" stroke-width="0.6"/>
<rect x="94.00" y="370.90" width="12.52" height="7.57" fill="#f6a9a9" stroke="#fff" stroke-width="0.6"/>
<rect x="106.52" y="370.90" width="12.52" height="7.57" fill="#f48a8a" stroke="#fff" stroke-width="0.6"/>
<rect x="119.04" y="370.90" width="12.52" height="7.57" fill="#fef8f8" stroke="#fff" stroke-width="0.6"/>
<rect x="94.00" y="378.47" width="12.52" height="7.57" fill="#f6a9a9" stroke="#fff" stroke-width="0.6"/>
<rect x="106.52" y="378.47" width="12.52" height="7.57" fill="#f7b2b2" stroke="#fff" stroke-width="0.6"/>
<rect x="119.04" y="378.47" width="12.52" height="7.57" fill="#fffcfc" stroke="#fff" stroke-width="0.6"/>
<rect x="94.00" y="386.04" width="12.52" height="7.57" fill="#f7b2b2" stroke="#fff" stroke-width="0.6"/>
<rect x="106.52" y="386.04" width="12.52" height="7.57" fill="#fbd4d4" stroke="#fff" stroke-width="0.6"/>
<rect x="119.04" y="386.04" width="12.52" height="7.57" fill="#ffffff" stroke="#fff" stroke-width="0.6"/>
<rect x="94.00" y="393.61" width="12.52" height="7.57" fill="#f8bbbb" stroke="#fff" stroke-width="0.6"/>
<rect x="106.52" y="393.61" width="12.52" height="7.57" fill="#fde4e4" stroke="#fff" stroke-width="0.6"/>
<rect x="119.04" y="393.61" width="12.52" height="7.57" fill="#f5a0a0" stroke="#fff" stroke-width="0.6"/>
<rect x="94.00" y="401.18" width="12.52" height="7.57" fill="#f9c4c4" stroke="#fff" stroke-width="0.6"/>
<rect x="106.52" y="401.18" width="12.52" height="7.57" fill="#f9c4c4" stroke="#fff" stroke-width="0.6"/>
<rect x="119.04" y="401.18" width="12.52" height="7.57" fill="#f48a8a" stroke="#fff" stroke-width="0.6"/>
<rect x="94.00" y="219.50" width="37.56" height="189.25" fill="none" stroke="#3a3a3a" stroke-width="0.8"/>
<rect x="166.40" y="219.60" width="12.30" height="7.88" fill="#1d2e86" stroke="#fff" stroke-width="0.6"/>
<rect x="178.70" y="219.60" width="12.30" height="7.88" fill="#dbe9f7" stroke="#fff" stroke-width="0.6"/>
<rect x="191.00" y="219.60" width="12.30" height="7.88" fill="#ffffff" stroke="#fff" stroke-width="0.6"/>
<rect x="166.40" y="227.47" width="12.30" height="7.88" fill="#213f97" stroke="#fff" stroke-width="0.6"/>
<rect x="178.70" y="227.47" width="12.30" height="7.88" fill="#e6f0f9" stroke="#fff" stroke-width="0.6"/>
<rect x="191.00" y="227.47" width="12.30" height="7.88" fill="#ffffff" stroke="#fff" stroke-width="0.6"/>
<rect x="166.40" y="235.35" width="12.30" height="7.88" fill="#356ebd" stroke="#fff" stroke-width="0.6"/>
<rect x="178.70" y="235.35" width="12.30" height="7.88" fill="#b6d2ef" stroke="#fff" stroke-width="0.6"/>
<rect x="191.00" y="235.35" width="12.30" height="7.88" fill="#f2f7fc" stroke="#fff" stroke-width="0.6"/>
<rect x="166.40" y="243.22" width="12.30" height="7.88" fill="#3a78c4" stroke="#fff" stroke-width="0.6"/>
<rect x="178.70" y="243.22" width="12.30" height="7.88" fill="#6aa4dc" stroke="#fff" stroke-width="0.6"/>
<rect x="191.00" y="243.22" width="12.30" height="7.88" fill="#ffffff" stroke="#fff" stroke-width="0.6"/>
<rect x="166.40" y="251.10" width="12.30" height="7.88" fill="#4180c8" stroke="#fff" stroke-width="0.6"/>
<rect x="178.70" y="251.10" width="12.30" height="7.88" fill="#fcfdfe" stroke="#fff" stroke-width="0.6"/>
<rect x="191.00" y="251.10" width="12.30" height="7.88" fill="#f8fbfd" stroke="#fff" stroke-width="0.6"/>
<rect x="166.40" y="258.98" width="12.30" height="7.88" fill="#4e8ed2" stroke="#fff" stroke-width="0.6"/>
<rect x="178.70" y="258.98" width="12.30" height="7.88" fill="#ffffff" stroke="#fff" stroke-width="0.6"/>
<rect x="191.00" y="258.98" width="12.30" height="7.88" fill="#fcfdfe" stroke="#fff" stroke-width="0.6"/>
<rect x="166.40" y="266.85" width="12.30" height="7.88" fill="#5292d4" stroke="#fff" stroke-width="0.6"/>
<rect x="178.70" y="266.85" width="12.30" height="7.88" fill="#8fbce6" stroke="#fff" stroke-width="0.6"/>
<rect x="191.00" y="266.85" width="12.30" height="7.88" fill="#e4eef9" stroke="#fff" stroke-width="0.6"/>
<rect x="166.40" y="274.73" width="12.30" height="7.88" fill="#5a9ad8" stroke="#fff" stroke-width="0.6"/>
<rect x="178.70" y="274.73" width="12.30" height="7.88" fill="#afcfed" stroke="#fff" stroke-width="0.6"/>
<rect x="191.00" y="274.73" width="12.30" height="7.88" fill="#ffffff" stroke="#fff" stroke-width="0.6"/>
<rect x="166.40" y="282.60" width="12.30" height="7.88" fill="#7fb3e2" stroke="#fff" stroke-width="0.6"/>
<rect x="178.70" y="282.60" width="12.30" height="7.88" fill="#f6fafd" stroke="#fff" stroke-width="0.6"/>
<rect x="191.00" y="282.60" width="12.30" height="7.88" fill="#ffffff" stroke="#fff" stroke-width="0.6"/>
<rect x="166.40" y="290.48" width="12.30" height="7.88" fill="#86b7e4" stroke="#fff" stroke-width="0.6"/>
<rect x="178.70" y="290.48" width="12.30" height="7.88" fill="#fcfdfe" stroke="#fff" stroke-width="0.6"/>
<rect x="191.00" y="290.48" width="12.30" height="7.88" fill="#ffffff" stroke="#fff" stroke-width="0.6"/>
<rect x="166.40" y="298.35" width="12.30" height="7.88" fill="#8ab9e4" stroke="#fff" stroke-width="0.6"/>
<rect x="178.70" y="298.35" width="12.30" height="7.88" fill="#dbe9f7" stroke="#fff" stroke-width="0.6"/>
<rect x="191.00" y="298.35" width="12.30" height="7.88" fill="#ffffff" stroke="#fff" stroke-width="0.6"/>
<rect x="166.40" y="306.23" width="12.30" height="7.88" fill="#8bbae5" stroke="#fff" stroke-width="0.6"/>
<rect x="178.70" y="306.23" width="12.30" height="7.88" fill="#e6f0f9" stroke="#fff" stroke-width="0.6"/>
<rect x="191.00" y="306.23" width="12.30" height="7.88" fill="#ffffff" stroke="#fff" stroke-width="0.6"/>
<rect x="166.40" y="314.10" width="12.30" height="7.88" fill="#86b7e4" stroke="#fff" stroke-width="0.6"/>
<rect x="178.70" y="314.10" width="12.30" height="7.88" fill="#dbe9f7" stroke="#fff" stroke-width="0.6"/>
<rect x="191.00" y="314.10" width="12.30" height="7.88" fill="#ffffff" stroke="#fff" stroke-width="0.6"/>
<rect x="166.40" y="321.98" width="12.30" height="7.88" fill="#86b7e4" stroke="#fff" stroke-width="0.6"/>
<rect x="178.70" y="321.98" width="12.30" height="7.88" fill="#d8e8f6" stroke="#fff" stroke-width="0.6"/>
<rect x="191.00" y="321.98" width="12.30" height="7.88" fill="#ffffff" stroke="#fff" stroke-width="0.6"/>
<rect x="166.40" y="329.85" width="12.30" height="7.88" fill="#8ab9e4" stroke="#fff" stroke-width="0.6"/>
<rect x="178.70" y="329.85" width="12.30" height="7.88" fill="#f6fafd" stroke="#fff" stroke-width="0.6"/>
<rect x="191.00" y="329.85" width="12.30" height="7.88" fill="#ffffff" stroke="#fff" stroke-width="0.6"/>
<rect x="166.40" y="337.73" width="12.30" height="7.88" fill="#9bc3e9" stroke="#fff" stroke-width="0.6"/>
<rect x="178.70" y="337.73" width="12.30" height="7.88" fill="#f6fafd" stroke="#fff" stroke-width="0.6"/>
<rect x="191.00" y="337.73" width="12.30" height="7.88" fill="#ffffff" stroke="#fff" stroke-width="0.6"/>
<rect x="166.40" y="345.60" width="12.30" height="7.88" fill="#b6d2ef" stroke="#fff" stroke-width="0.6"/>
<rect x="178.70" y="345.60" width="12.30" height="7.88" fill="#eff5fb" stroke="#fff" stroke-width="0.6"/>
<rect x="191.00" y="345.60" width="12.30" height="7.88" fill="#eff5fb" stroke="#fff" stroke-width="0.6"/>
<rect x="166.40" y="353.48" width="12.30" height="7.88" fill="#b8d4ef" stroke="#fff" stroke-width="0.6"/>
<rect x="178.70" y="353.48" width="12.30" height="7.88" fill="#f6fafd" stroke="#fff" stroke-width="0.6"/>
<rect x="191.00" y="353.48" width="12.30" height="7.88" fill="#ffffff" stroke="#fff" stroke-width="0.6"/>
<rect x="166.40" y="361.35" width="12.30" height="7.88" fill="#c2daf2" stroke="#fff" stroke-width="0.6"/>
<rect x="178.70" y="361.35" width="12.30" height="7.88" fill="#aeceed" stroke="#fff" stroke-width="0.6"/>
<rect x="191.00" y="361.35" width="12.30" height="7.88" fill="#eff5fb" stroke="#fff" stroke-width="0.6"/>
<rect x="166.40" y="369.23" width="12.30" height="7.88" fill="#c4dcf2" stroke="#fff" stroke-width="0.6"/>
<rect x="178.70" y="369.23" width="12.30" height="7.88" fill="#ffffff" stroke="#fff" stroke-width="0.6"/>
<rect x="191.00" y="369.23" width="12.30" height="7.88" fill="#ffffff" stroke="#fff" stroke-width="0.6"/>
<rect x="166.40" y="377.10" width="12.30" height="7.88" fill="#c4dcf2" stroke="#fff" stroke-width="0.6"/>
<rect x="178.70" y="377.10" width="12.30" height="7.88" fill="#dfebf8" stroke="#fff" stroke-width="0.6"/>
<rect x="191.00" y="377.10" width="12.30" height="7.88" fill="#c8def3" stroke="#fff" stroke-width="0.6"/>
<rect x="166.40" y="384.98" width="12.30" height="7.88" fill="#cadef3" stroke="#fff" stroke-width="0.6"/>
<rect x="178.70" y="384.98" width="12.30" height="7.88" fill="#a5c9eb" stroke="#fff" stroke-width="0.6"/>
<rect x="191.00" y="384.98" width="12.30" height="7.88" fill="#ffffff" stroke="#fff" stroke-width="0.6"/>
<rect x="166.40" y="392.85" width="12.30" height="7.88" fill="#cce0f4" stroke="#fff" stroke-width="0.6"/>
<rect x="178.70" y="392.85" width="12.30" height="7.88" fill="#ffffff" stroke="#fff" stroke-width="0.6"/>
<rect x="191.00" y="392.85" width="12.30" height="7.88" fill="#fdfeff" stroke="#fff" stroke-width="0.6"/>
<rect x="166.40" y="400.73" width="12.30" height="7.88" fill="#d1e3f5" stroke="#fff" stroke-width="0.6"/>
<rect x="178.70" y="400.73" width="12.30" height="7.88" fill="#f2f7fc" stroke="#fff" stroke-width="0.6"/>
<rect x="191.00" y="400.73" width="12.30" height="7.88" fill="#f3f8fc" stroke="#fff" stroke-width="0.6"/>
<rect x="166.1" y="219.60" width="37.3" height="189.00" fill="none" stroke="#3a3a3a" stroke-width="0.8"/>
<defs><linearGradient id="gR" x1="0" y1="1" x2="0" y2="0"><stop offset="0.000" stop-color="#ffffff"/><stop offset="0.114" stop-color="#fde4e4"/><stop offset="0.229" stop-color="#f9c4c4"/><stop offset="0.343" stop-color="#f5a0a0"/><stop offset="0.457" stop-color="#f27474"/><stop offset="0.571" stop-color="#ee5656"/><stop offset="0.686" stop-color="#e8403e"/><stop offset="0.800" stop-color="#cf2a2c"/><stop offset="0.914" stop-color="#a81c1e"/><stop offset="1.000" stop-color="#861414"/></linearGradient><linearGradient id="gB" x1="0" y1="1" x2="0" y2="0"><stop offset="0.000" stop-color="#ffffff"/><stop offset="0.147" stop-color="#dbe9f7"/><stop offset="0.294" stop-color="#a9cbec"/><stop offset="0.441" stop-color="#7fb3e2"/><stop offset="0.588" stop-color="#5596d6"/><stop offset="0.735" stop-color="#3a78c4"/><stop offset="0.882" stop-color="#2550a8"/><stop offset="1.000" stop-color="#1c2c84"/></linearGradient></defs>
<rect x="136.7" y="219.2" width="4.3" height="187.5" fill="url(#gR)" stroke="#bbb" stroke-width="0.3"/>
<rect x="158.9" y="219.2" width="5.2" height="187.5" fill="url(#gB)" stroke="#bbb" stroke-width="0.3"/>
<text x="141.80" y="408.10" font-size="6.0" textLength="3.07" lengthAdjust="spacingAndGlyphs" stroke="#231f20" stroke-width="0.2">0</text>
<text x="141.80" y="386.62" font-size="6.0" textLength="3.07" lengthAdjust="spacingAndGlyphs" stroke="#231f20" stroke-width="0.2">2</text>
<text x="141.80" y="365.14" font-size="6.0" textLength="3.07" lengthAdjust="spacingAndGlyphs" stroke="#231f20" stroke-width="0.2">4</text>
<text x="141.80" y="343.66" font-size="6.0" textLength="3.07" lengthAdjust="spacingAndGlyphs" stroke="#231f20" stroke-width="0.2">6</text>
<text x="141.80" y="322.18" font-size="6.0" textLength="3.07" lengthAdjust="spacingAndGlyphs" stroke="#231f20" stroke-width="0.2">8</text>
<text x="141.80" y="300.70" font-size="6.0" textLength="6.14" lengthAdjust="spacingAndGlyphs" stroke="#231f20" stroke-width="0.2">10</text>
<text x="141.80" y="279.22" font-size="6.0" textLength="6.14" lengthAdjust="spacingAndGlyphs" stroke="#231f20" stroke-width="0.2">12</text>
<text x="141.80" y="257.74" font-size="6.0" textLength="6.14" lengthAdjust="spacingAndGlyphs" stroke="#231f20" stroke-width="0.2">14</text>
<text x="141.80" y="236.26" font-size="6.0" textLength="6.14" lengthAdjust="spacingAndGlyphs" stroke="#231f20" stroke-width="0.2">16</text>
<text x="156.40" y="408.10" font-size="6.0" text-anchor="end" textLength="3.07" lengthAdjust="spacingAndGlyphs" stroke="#231f20" stroke-width="0.2">0</text>
<text x="156.40" y="394.30" font-size="6.0" text-anchor="end" textLength="3.07" lengthAdjust="spacingAndGlyphs" stroke="#231f20" stroke-width="0.2">2</text>
<text x="156.40" y="380.50" font-size="6.0" text-anchor="end" textLength="3.07" lengthAdjust="spacingAndGlyphs" stroke="#231f20" stroke-width="0.2">4</text>
<text x="156.40" y="366.70" font-size="6.0" text-anchor="end" textLength="3.07" lengthAdjust="spacingAndGlyphs" stroke="#231f20" stroke-width="0.2">6</text>
<text x="156.40" y="352.90" font-size="6.0" text-anchor="end" textLength="3.07" lengthAdjust="spacingAndGlyphs" stroke="#231f20" stroke-width="0.2">8</text>
<text x="156.40" y="339.10" font-size="6.0" text-anchor="end" textLength="6.14" lengthAdjust="spacingAndGlyphs" stroke="#231f20" stroke-width="0.2">10</text>
<text x="156.40" y="325.30" font-size="6.0" text-anchor="end" textLength="6.14" lengthAdjust="spacingAndGlyphs" stroke="#231f20" stroke-width="0.2">12</text>
<text x="156.40" y="311.50" font-size="6.0" text-anchor="end" textLength="6.14" lengthAdjust="spacingAndGlyphs" stroke="#231f20" stroke-width="0.2">14</text>
<text x="156.40" y="297.70" font-size="6.0" text-anchor="end" textLength="6.14" lengthAdjust="spacingAndGlyphs" stroke="#231f20" stroke-width="0.2">16</text>
<text x="156.40" y="283.90" font-size="6.0" text-anchor="end" textLength="6.14" lengthAdjust="spacingAndGlyphs" stroke="#231f20" stroke-width="0.2">18</text>
<text x="156.40" y="270.10" font-size="6.0" text-anchor="end" textLength="6.14" lengthAdjust="spacingAndGlyphs" stroke="#231f20" stroke-width="0.2">20</text>
<text x="156.40" y="256.30" font-size="6.0" text-anchor="end" textLength="6.14" lengthAdjust="spacingAndGlyphs" stroke="#231f20" stroke-width="0.2">22</text>
<text x="156.40" y="242.50" font-size="6.0" text-anchor="end" textLength="6.14" lengthAdjust="spacingAndGlyphs" stroke="#231f20" stroke-width="0.2">24</text>
<text x="156.40" y="228.70" font-size="6.0" text-anchor="end" textLength="6.14" lengthAdjust="spacingAndGlyphs" stroke="#231f20" stroke-width="0.2">26</text>
<text x="149.35" y="413.80" font-size="5.9" text-anchor="middle" textLength="32.70" lengthAdjust="spacingAndGlyphs" stroke="#231f20" stroke-width="0.2">log<tspan font-size="4" dy="1.2">10</tspan><tspan dy="-1.2">(P-value)</tspan></text>
<text x="113.10" y="417.90" font-size="5.9" text-anchor="middle" textLength="24.43" lengthAdjust="spacingAndGlyphs" stroke="#231f20" stroke-width="0.2">Upregulated</text>
<text x="185.10" y="417.90" font-size="5.9" text-anchor="middle" textLength="30.16" lengthAdjust="spacingAndGlyphs" stroke="#231f20" stroke-width="0.2">Downregulated</text>
<text x="100.65" y="217.60" font-size="5.4" textLength="41.91" lengthAdjust="spacingAndGlyphs" transform="rotate(-45 100.65 217.60)" stroke="#231f20" stroke-width="0.2">inv(3)/Sf3b1 vs control</text>
<text x="173.05" y="217.60" font-size="5.4" textLength="41.91" lengthAdjust="spacingAndGlyphs" transform="rotate(-45 173.05 217.60)" stroke="#231f20" stroke-width="0.2">inv(3)/Sf3b1 vs control</text>
<text x="113.15" y="217.60" font-size="5.4" textLength="29.73" lengthAdjust="spacingAndGlyphs" transform="rotate(-45 113.15 217.60)" stroke="#231f20" stroke-width="0.2">inv(3) vs control</text>
<text x="185.55" y="217.60" font-size="5.4" textLength="29.73" lengthAdjust="spacingAndGlyphs" transform="rotate(-45 185.55 217.60)" stroke="#231f20" stroke-width="0.2">inv(3) vs control</text>
<text x="125.65" y="217.60" font-size="5.4" textLength="30.20" lengthAdjust="spacingAndGlyphs" transform="rotate(-45 125.65 217.60)" stroke="#231f20" stroke-width="0.2">Sf3b1 vs control</text>
<text x="198.05" y="217.60" font-size="5.4" textLength="30.20" lengthAdjust="spacingAndGlyphs" transform="rotate(-45 198.05 217.60)" stroke="#231f20" stroke-width="0.2">Sf3b1 vs control</text>
<text x="92.00" y="225.28" font-size="5.9" text-anchor="end" textLength="50.98" lengthAdjust="spacingAndGlyphs" stroke="#231f20" stroke-width="0.2">Interferon gamma response</text>
<text x="92.00" y="232.85" font-size="5.9" text-anchor="end" textLength="47.30" lengthAdjust="spacingAndGlyphs" stroke="#231f20" stroke-width="0.2">Interferon alpha response</text>
<text x="92.00" y="240.43" font-size="5.9" text-anchor="end" textLength="56.98" lengthAdjust="spacingAndGlyphs" stroke="#231f20" stroke-width="0.2">Interleukin-2 signaling pathway</text>
<text x="92.00" y="248.00" font-size="5.9" text-anchor="end" textLength="18.76" lengthAdjust="spacingAndGlyphs" stroke="#231f20" stroke-width="0.2">Lysosome</text>
<text x="92.00" y="253.16" font-size="5.9" text-anchor="end" textLength="74.27" lengthAdjust="spacingAndGlyphs" stroke="#231f20" stroke-width="0.2">Immune system signaling by interferons,</text>
<text x="92.00" y="257.97" font-size="5.9" text-anchor="end" textLength="81.43" lengthAdjust="spacingAndGlyphs" stroke="#231f20" stroke-width="0.2">interleukins, prolactin, and growth hormones</text>
<text x="92.00" y="263.13" font-size="5.9" text-anchor="end" textLength="43.83" lengthAdjust="spacingAndGlyphs" stroke="#231f20" stroke-width="0.2">Acute myeloid leukemia</text>
<text x="92.00" y="268.31" font-size="5.9" text-anchor="end" textLength="83.52" lengthAdjust="spacingAndGlyphs" stroke="#231f20" stroke-width="0.2">Interferon alpha/beta signaling Homo sapiens</text>
<text x="92.00" y="273.10" font-size="5.9" text-anchor="end" textLength="28.14" lengthAdjust="spacingAndGlyphs" stroke="#231f20" stroke-width="0.2">R-HSA-909733</text>
<text x="92.00" y="278.27" font-size="5.9" text-anchor="end" textLength="83.74" lengthAdjust="spacingAndGlyphs" stroke="#231f20" stroke-width="0.2">Toll-like receptor signaling pathway regulation</text>
<text x="92.00" y="285.85" font-size="5.9" text-anchor="end" textLength="56.51" lengthAdjust="spacingAndGlyphs" stroke="#231f20" stroke-width="0.2">TNF-alpha signaling via NF-kB</text>
<text x="92.00" y="293.42" font-size="5.9" text-anchor="end" textLength="56.98" lengthAdjust="spacingAndGlyphs" stroke="#231f20" stroke-width="0.2">Interleukin-7 signaling pathway</text>
<text x="92.00" y="300.99" font-size="5.9" text-anchor="end" textLength="23.53" lengthAdjust="spacingAndGlyphs" stroke="#231f20" stroke-width="0.2">p53 pathway</text>
<text x="92.00" y="308.56" font-size="5.9" text-anchor="end" textLength="43.83" lengthAdjust="spacingAndGlyphs" stroke="#231f20" stroke-width="0.2">Acute myeloid leukemia</text>
<text x="92.00" y="313.73" font-size="5.9" text-anchor="end" textLength="78.89" lengthAdjust="spacingAndGlyphs" stroke="#231f20" stroke-width="0.2">NF-kappaB activation through FADD/RIP-1</text>
<text x="92.00" y="318.52" font-size="5.9" text-anchor="end" textLength="15.46" lengthAdjust="spacingAndGlyphs" stroke="#231f20" stroke-width="0.2">pathway</text>
<text x="92.00" y="323.69" font-size="5.9" text-anchor="end" textLength="38.14" lengthAdjust="spacingAndGlyphs" stroke="#231f20" stroke-width="0.2">IL-2/STAT5 signaling</text>
<text x="92.00" y="331.26" font-size="5.9" text-anchor="end" textLength="73.13" lengthAdjust="spacingAndGlyphs" stroke="#231f20" stroke-width="0.2">B cell receptor signaling pathway WP23</text>
<text x="92.00" y="338.84" font-size="5.9" text-anchor="end" textLength="72.21" lengthAdjust="spacingAndGlyphs" stroke="#231f20" stroke-width="0.2">Chemokine signaling pathway WP3929</text>
<text x="92.00" y="346.40" font-size="5.9" text-anchor="end" textLength="78.67" lengthAdjust="spacingAndGlyphs" stroke="#231f20" stroke-width="0.2">Integrated breast cancer pathway WP1984</text>
<text x="92.00" y="353.98" font-size="5.9" text-anchor="end" textLength="53.75" lengthAdjust="spacingAndGlyphs" stroke="#231f20" stroke-width="0.2">TNF-alpha signaling pathway</text>
<text x="92.00" y="361.55" font-size="5.9" text-anchor="end" textLength="55.36" lengthAdjust="spacingAndGlyphs" stroke="#231f20" stroke-width="0.2">EGF/EGFR signaling pathway</text>
<text x="92.00" y="369.12" font-size="5.9" text-anchor="end" textLength="45.91" lengthAdjust="spacingAndGlyphs" stroke="#231f20" stroke-width="0.2">MAPK signaling pathway</text>
<text x="92.00" y="376.69" font-size="5.9" text-anchor="end" textLength="19.84" lengthAdjust="spacingAndGlyphs" stroke="#231f20" stroke-width="0.2">Autophagy</text>
<text x="92.00" y="384.25" font-size="5.9" text-anchor="end" textLength="56.98" lengthAdjust="spacingAndGlyphs" stroke="#231f20" stroke-width="0.2">Interleukin-6 signaling pathway</text>
<text x="92.00" y="391.83" font-size="5.9" text-anchor="end" textLength="44.99" lengthAdjust="spacingAndGlyphs" stroke="#231f20" stroke-width="0.2">Notch signaling pathway</text>
<text x="92.00" y="399.39" font-size="5.9" text-anchor="end" textLength="43.83" lengthAdjust="spacingAndGlyphs" stroke="#231f20" stroke-width="0.2">Myc repressed pathway</text>
<text x="92.00" y="406.97" font-size="5.9" text-anchor="end" textLength="70.89" lengthAdjust="spacingAndGlyphs" stroke="#231f20" stroke-width="0.2">Transcriptional misregulation in cancer</text>
<text x="207.00" y="225.54" font-size="5.9" textLength="21.45" lengthAdjust="spacingAndGlyphs" stroke="#231f20" stroke-width="0.2">E2F targets</text>
<text x="207.00" y="233.41" font-size="5.9" textLength="28.60" lengthAdjust="spacingAndGlyphs" stroke="#231f20" stroke-width="0.2">DNA replication</text>
<text x="207.00" y="241.29" font-size="5.9" textLength="47.75" lengthAdjust="spacingAndGlyphs" stroke="#231f20" stroke-width="0.2">Oxidative phosphorylation</text>
<text x="207.00" y="249.16" font-size="5.9" textLength="27.68" lengthAdjust="spacingAndGlyphs" stroke="#231f20" stroke-width="0.2">Myc targets V1</text>
<text x="207.00" y="257.04" font-size="5.9" textLength="17.76" lengthAdjust="spacingAndGlyphs" stroke="#231f20" stroke-width="0.2">Cell cycle</text>
<text x="207.00" y="264.91" font-size="5.9" textLength="70.59" lengthAdjust="spacingAndGlyphs" stroke="#231f20" stroke-width="0.2">M phase Homo sapiens R-HSA-68886</text>
<text x="207.00" y="272.79" font-size="5.9" textLength="33.44" lengthAdjust="spacingAndGlyphs" stroke="#231f20" stroke-width="0.2">Heme metabolism</text>
<text x="207.00" y="278.06" font-size="5.9" textLength="93.18" lengthAdjust="spacingAndGlyphs" stroke="#231f20" stroke-width="0.2">The citric acid (TCA) cycle and respiratory electron</text>
<text x="207.00" y="283.26" font-size="5.9" textLength="75.66" lengthAdjust="spacingAndGlyphs" stroke="#231f20" stroke-width="0.2">transport Homo sapiens R-HSA-1428517</text>
<text x="207.00" y="288.54" font-size="5.9" textLength="44.05" lengthAdjust="spacingAndGlyphs" stroke="#231f20" stroke-width="0.2">Mitotic G1-G1/S phases</text>
<text x="207.00" y="293.81" font-size="5.9" textLength="44.98" lengthAdjust="spacingAndGlyphs" stroke="#231f20" stroke-width="0.2">Mitochondrial translation</text>
<text x="207.00" y="299.01" font-size="5.9" textLength="58.13" lengthAdjust="spacingAndGlyphs" stroke="#231f20" stroke-width="0.2">Homo sapiens R-HSA-5368287</text>
<text x="207.00" y="304.29" font-size="5.9" textLength="33.21" lengthAdjust="spacingAndGlyphs" stroke="#231f20" stroke-width="0.2">G2/M checkpoints</text>
<text x="207.00" y="312.16" font-size="5.9" textLength="43.83" lengthAdjust="spacingAndGlyphs" stroke="#231f20" stroke-width="0.2">Electron transport chain</text>
<text x="207.00" y="317.44" font-size="5.9" textLength="91.04" lengthAdjust="spacingAndGlyphs" stroke="#231f20" stroke-width="0.2">Activation of ATR in response to replication stress</text>
<text x="207.00" y="322.64" font-size="5.9" textLength="55.82" lengthAdjust="spacingAndGlyphs" stroke="#231f20" stroke-width="0.2">Homo sapiens R-HSA-176187</text>
<text x="207.00" y="327.91" font-size="5.9" textLength="73.35" lengthAdjust="spacingAndGlyphs" stroke="#231f20" stroke-width="0.2">Activation of the pre-replicative complex</text>
<text x="207.00" y="335.79" font-size="5.9" textLength="41.53" lengthAdjust="spacingAndGlyphs" stroke="#231f20" stroke-width="0.2">DNA strand elongation</text>
<text x="207.00" y="343.66" font-size="5.9" textLength="51.44" lengthAdjust="spacingAndGlyphs" stroke="#231f20" stroke-width="0.2">Messenger RNA processing</text>
<text x="207.00" y="351.54" font-size="5.9" textLength="20.30" lengthAdjust="spacingAndGlyphs" stroke="#231f20" stroke-width="0.2">DNA repair</text>
<text x="207.00" y="359.41" font-size="5.9" textLength="26.06" lengthAdjust="spacingAndGlyphs" stroke="#231f20" stroke-width="0.2">RNA transport</text>
<text x="207.00" y="367.29" font-size="5.9" textLength="34.37" lengthAdjust="spacingAndGlyphs" stroke="#231f20" stroke-width="0.2">Purine metabolism</text>
<text x="207.00" y="375.16" font-size="5.9" textLength="81.65" lengthAdjust="spacingAndGlyphs" stroke="#231f20" stroke-width="0.2">mRNA splicing Homo sapiens R-HSA-72172</text>
<text x="207.00" y="383.04" font-size="5.9" textLength="34.60" lengthAdjust="spacingAndGlyphs" stroke="#231f20" stroke-width="0.2">Rho GTPase cycle</text>
<text x="207.00" y="390.91" font-size="5.9" textLength="59.97" lengthAdjust="spacingAndGlyphs" stroke="#231f20" stroke-width="0.2">Amino acid metabolism WP3925</text>
<text x="207.00" y="396.19" font-size="5.9" textLength="85.82" lengthAdjust="spacingAndGlyphs" stroke="#231f20" stroke-width="0.2">DNA double strand break repair Homo sapiens</text>
<text x="207.00" y="401.39" font-size="5.9" textLength="30.45" lengthAdjust="spacingAndGlyphs" stroke="#231f20" stroke-width="0.2">R-HSA-5693532</text>
<text x="207.00" y="406.66" font-size="5.9" textLength="74.97" lengthAdjust="spacingAndGlyphs" stroke="#231f20" stroke-width="0.2">DNA repair Homo sapiens R-HSA-73894</text>
<text x="320.60" y="184.80" font-size="12" font-weight="bold" fill="#000" stroke="#000" stroke-width="0.3">E</text>
<rect x="416.3" y="202.3" width="72.0" height="212.3" fill="none" stroke="#231f20" stroke-width="1"/>
<path d="M433.3 199.4V202.4M467.8 199.4V202.4" stroke="#231f20" stroke-width="0.9"/>
<text x="413.00" y="189.80" font-size="7.0" text-anchor="middle" textLength="51.00" lengthAdjust="spacingAndGlyphs" stroke="#231f20" stroke-width="0.24"><tspan font-style="italic">EVI1-r</tspan> (+)/<tspan font-style="italic">SF3B1</tspan>-mutated</text>
<text x="412.40" y="197.40" font-size="7.0" text-anchor="middle" textLength="31.50" lengthAdjust="spacingAndGlyphs" stroke="#231f20" stroke-width="0.24">vs <tspan font-style="italic">EVI1-r</tspan> (+) AML</text>
<text x="483.00" y="189.80" font-size="7.0" text-anchor="middle" textLength="54.00" lengthAdjust="spacingAndGlyphs" stroke="#231f20" stroke-width="0.24"><tspan font-style="italic">EVI1-r</tspan> (−)/<tspan font-style="italic">SF3B1</tspan>-mutated</text>
<text x="484.50" y="197.40" font-size="7.0" text-anchor="middle" textLength="35.00" lengthAdjust="spacingAndGlyphs" stroke="#231f20" stroke-width="0.24">vs <tspan font-style="italic">EVI1-r</tspan> (−) AML</text>
<text x="413.60" y="211.00" font-size="5.8" text-anchor="end" textLength="41.68" lengthAdjust="spacingAndGlyphs" stroke="#231f20" stroke-width="0.2">Protein targeting to ER</text>
<text x="413.60" y="219.70" font-size="5.8" text-anchor="end" textLength="93.65" lengthAdjust="spacingAndGlyphs" stroke="#231f20" stroke-width="0.2">Nuclear-transcribed mRNA catabolic process, NMD</text>
<text x="413.60" y="227.80" font-size="5.8" text-anchor="end" textLength="30.91" lengthAdjust="spacingAndGlyphs" stroke="#231f20" stroke-width="0.2">rRNA processing</text>
<text x="413.60" y="236.40" font-size="5.8" text-anchor="end" textLength="81.98" lengthAdjust="spacingAndGlyphs" stroke="#231f20" stroke-width="0.2">Nuclear-transcribed mRNA catabolic process</text>
<text x="413.60" y="243.10" font-size="5.8" text-anchor="end" textLength="33.89" lengthAdjust="spacingAndGlyphs" stroke="#231f20" stroke-width="0.2">ncRNA processing</text>
<text x="413.60" y="249.80" font-size="5.8" text-anchor="end" textLength="44.19" lengthAdjust="spacingAndGlyphs" stroke="#231f20" stroke-width="0.2">rRNA metabolic process</text>
<text x="413.60" y="258.50" font-size="5.8" text-anchor="end" textLength="31.15" lengthAdjust="spacingAndGlyphs" stroke="#231f20" stroke-width="0.2">Gene expression</text>
<text x="413.60" y="267.60" font-size="5.8" text-anchor="end" textLength="32.97" lengthAdjust="spacingAndGlyphs" stroke="#231f20" stroke-width="0.2">mRNA processing</text>
<text x="413.60" y="277.40" font-size="5.8" text-anchor="end" textLength="90.45" lengthAdjust="spacingAndGlyphs" stroke="#231f20" stroke-width="0.2">mRNA splicing, via spliceosome RNA splicing, via</text>
<text x="413.60" y="283.50" font-size="5.8" text-anchor="end" textLength="97.80" lengthAdjust="spacingAndGlyphs" stroke="#231f20" stroke-width="0.2">transesterification reactions with bulged adenosine as</text>
<text x="413.60" y="290.30" font-size="5.8" text-anchor="end" textLength="98.71" lengthAdjust="spacingAndGlyphs" stroke="#231f20" stroke-width="0.2">nucleophile regulation of transcription, DNA-templated</text>
<text x="413.60" y="306.30" font-size="5.8" text-anchor="end" textLength="22.90" lengthAdjust="spacingAndGlyphs" stroke="#231f20" stroke-width="0.2">RNA binding</text>
<text x="413.60" y="316.40" font-size="5.8" text-anchor="end" textLength="26.34" lengthAdjust="spacingAndGlyphs" stroke="#231f20" stroke-width="0.2">mRNA binding</text>
<text x="413.60" y="327.00" font-size="5.8" text-anchor="end" textLength="40.38" lengthAdjust="spacingAndGlyphs" stroke="#231f20" stroke-width="0.2">mRNA 3′-UTR binding</text>
<text x="413.60" y="334.20" font-size="5.8" text-anchor="end" textLength="41.37" lengthAdjust="spacingAndGlyphs" stroke="#231f20" stroke-width="0.2">Viral mRNA translation</text>
<text x="413.60" y="341.80" font-size="5.8" text-anchor="end" textLength="59.55" lengthAdjust="spacingAndGlyphs" stroke="#231f20" stroke-width="0.2">Eukaryotic translation elongation</text>
<text x="413.60" y="349.40" font-size="5.8" text-anchor="end" textLength="93.21" lengthAdjust="spacingAndGlyphs" stroke="#231f20" stroke-width="0.2">Major pathway of rRNA processing in the nucleolus</text>
<text x="413.60" y="357.40" font-size="5.8" text-anchor="end" textLength="9.38" lengthAdjust="spacingAndGlyphs" stroke="#231f20" stroke-width="0.2">NMD</text>
<text x="413.60" y="367.20" font-size="5.8" text-anchor="end" textLength="73.83" lengthAdjust="spacingAndGlyphs" stroke="#231f20" stroke-width="0.2">3′-UTR-mediated translational regulation</text>
<text x="413.60" y="376.90" font-size="5.8" text-anchor="end" textLength="31.15" lengthAdjust="spacingAndGlyphs" stroke="#231f20" stroke-width="0.2">Gene expression</text>
<text x="413.60" y="384.90" font-size="5.8" text-anchor="end" textLength="64.82" lengthAdjust="spacingAndGlyphs" stroke="#231f20" stroke-width="0.2">Cap-dependent translation initiation</text>
<text x="413.60" y="393.00" font-size="5.8" text-anchor="end" textLength="55.65" lengthAdjust="spacingAndGlyphs" stroke="#231f20" stroke-width="0.2">Eukaryotic translation initiation</text>
<text x="413.60" y="401.00" font-size="5.8" text-anchor="end" textLength="20.23" lengthAdjust="spacingAndGlyphs" stroke="#231f20" stroke-width="0.2">Translation</text>
<text x="413.60" y="409.90" font-size="5.8" text-anchor="end" textLength="91.83" lengthAdjust="spacingAndGlyphs" stroke="#231f20" stroke-width="0.2">Processing of capped intron-containing pre-mRNA</text>
<circle cx="433.0" cy="206.4" r="0.9" fill="#85858b"/>
<circle cx="433.0" cy="214.4" r="0.9" fill="#85858b"/>
<circle cx="433.0" cy="224.0" r="0.9" fill="#85858b"/>
<circle cx="433.0" cy="231.2" r="0.9" fill="#85858b"/>
<circle cx="433.0" cy="239.4" r="0.9" fill="#85858b"/>
<circle cx="433.0" cy="250.0" r="0.9" fill="#85858b"/>
<circle cx="433.0" cy="257.7" r="0.95" fill="#85858b"/>
<circle cx="433.0" cy="267.3" r="0.9" fill="#85858b"/>
<circle cx="433.0" cy="304.8" r="1.7" fill="#a8a8ae"/>
<circle cx="433.0" cy="333.1" r="0.85" fill="#85858b"/>
<circle cx="433.0" cy="341.3" r="0.85" fill="#85858b"/>
<circle cx="433.0" cy="347.8" r="0.85" fill="#85858b"/>
<circle cx="433.0" cy="356.3" r="0.85" fill="#85858b"/>
<circle cx="433.0" cy="364.5" r="0.85" fill="#85858b"/>
<circle cx="433.0" cy="375.6" r="1.8" fill="#a8a8ae"/>
<circle cx="433.0" cy="383.7" r="0.85" fill="#85858b"/>
<circle cx="433.0" cy="391.9" r="0.85" fill="#85858b"/>
<circle cx="433.0" cy="400.5" r="0.85" fill="#85858b"/>
<circle cx="433.0" cy="408.7" r="0.85" fill="#85858b"/>
<circle cx="467.8" cy="206.4" r="1.3" fill="#a5a5ab"/>
<circle cx="467.8" cy="214.4" r="1.5" fill="#a5a5ab"/>
<circle cx="467.8" cy="224.0" r="1.8" fill="#a5a5ab"/>
<circle cx="467.8" cy="231.2" r="1.6" fill="#a5a5ab"/>
<circle cx="467.8" cy="239.4" r="1.6" fill="#a5a5ab"/>
<circle cx="467.8" cy="250.0" r="1.7" fill="#a5a5ab"/>
<circle cx="467.8" cy="257.7" r="2.1" fill="#a5a5ab"/>
<circle cx="467.8" cy="267.3" r="1.7" fill="#a5a5ab"/>
<circle cx="467.8" cy="276.3" r="1.6" fill="#a5a5ab"/>
<circle cx="467.8" cy="285.4" r="1.5" fill="#a5a5ab"/>
<circle cx="467.8" cy="294.9" r="3.8" fill="#bdbdc1"/>
<circle cx="467.8" cy="304.8" r="3.7" fill="#000"/>
<circle cx="467.8" cy="316.0" r="1.7" fill="#a0a0a6"/>
<circle cx="467.8" cy="325.0" r="1.0" fill="#7f7f85"/>
<circle cx="467.8" cy="333.1" r="1.3" fill="#a0a0a6"/>
<circle cx="467.8" cy="341.3" r="1.4" fill="#a0a0a6"/>
<circle cx="467.8" cy="347.8" r="1.5" fill="#a0a0a6"/>
<circle cx="467.8" cy="356.3" r="1.4" fill="#a0a0a6"/>
<circle cx="467.8" cy="364.5" r="1.5" fill="#a0a0a6"/>
<circle cx="467.8" cy="375.6" r="3.9" fill="#000"/>
<circle cx="467.8" cy="383.7" r="1.5" fill="#a0a0a6"/>
<circle cx="467.8" cy="391.9" r="1.5" fill="#a0a0a6"/>
<circle cx="467.8" cy="400.5" r="1.4" fill="#a0a0a6"/>
<circle cx="467.8" cy="408.7" r="1.5" fill="#a0a0a6"/>
<text x="382.00" y="422.40" font-size="5.8" fill="#3a3a3a" textLength="32.00" lengthAdjust="spacingAndGlyphs" stroke="#3a3a3a" stroke-width="0.2">Number of genes</text>
<circle cx="385.7" cy="428.0" r="2.5" fill="#000"/><circle cx="385.9" cy="437.1" r="4.0" fill="#000"/>
<text x="391.80" y="430.20" font-size="5.6" fill="#3a3a3a" textLength="7.20" lengthAdjust="spacingAndGlyphs" stroke="#3a3a3a" stroke-width="0.2">100</text>
<text x="391.80" y="439.30" font-size="5.6" fill="#3a3a3a" textLength="7.20" lengthAdjust="spacingAndGlyphs" stroke="#3a3a3a" stroke-width="0.2">200</text>
<text x="463.20" y="424.60" font-size="5.4" text-anchor="end" textLength="14.50" lengthAdjust="spacingAndGlyphs" stroke="#231f20" stroke-width="0.2">- log10</text>
<text x="463.20" y="431.40" font-size="5.4" text-anchor="end" textLength="8.20" lengthAdjust="spacingAndGlyphs" stroke="#231f20" stroke-width="0.2">FDR</text>
<defs><linearGradient id="gF" x1="0" y1="0" x2="1" y2="0"><stop offset="0" stop-color="#e6e6e6"/><stop offset="0.5" stop-color="#888"/><stop offset="1" stop-color="#000"/></linearGradient></defs>
<rect x="466.2" y="419.4" width="24.2" height="11.6" fill="url(#gF)"/>
<path d="M467.6 429.4V431" stroke="#fff" stroke-width="0.5"/>
<text x="467.60" y="436.80" font-size="5.6" text-anchor="middle" fill="#3a3a3a" stroke="#3a3a3a" stroke-width="0.2">0</text>
<path d="M477.4 429.4V431" stroke="#fff" stroke-width="0.5"/>
<text x="477.40" y="436.80" font-size="5.6" text-anchor="middle" fill="#3a3a3a" stroke="#3a3a3a" stroke-width="0.2">20</text>
<path d="M486.6 429.4V431" stroke="#fff" stroke-width="0.5"/>
<text x="486.60" y="436.80" font-size="5.6" text-anchor="middle" fill="#3a3a3a" stroke="#3a3a3a" stroke-width="0.2">40</text>
<text x="7.40" y="484.80" font-size="12" font-weight="bold" fill="#000" stroke="#000" stroke-width="0.3">F</text>
<g fill="#000"><ellipse cx="33.75" cy="501.9" rx="3.0" ry="3.5"/><path d="M32.14 504.98 L31.67 507.02 L28.88 507.95 L27.95 508.88 L27.02 512.60 L26.09 518.19 L24.98 521.91 L23.30 525.63 L21.91 527.95 L20.51 529.63 L20.14 530.74 L21.44 531.67 L23.30 531.21 L24.42 529.81 L25.63 526.56 L27.02 522.84 L28.14 519.30 L28.70 517.26 L28.60 521.91 L28.42 525.63 L28.70 529.35 L29.35 532.14 L30.28 536.79 L31.67 542.37 L33.07 547.02 L33.53 550.74 L32.60 553.53 L31.49 555.40 L34.00 556.05 L36.05 554.47 L35.67 551.67 L35.40 546.09 L35.58 540.51 L36.14 535.40 L36.88 534.19 L37.72 537.72 L38.65 542.37 L40.05 547.02 L41.44 550.74 L42.37 553.53 L43.95 555.86 L45.44 555.12 L43.95 552.14 L42.56 547.02 L42.00 542.37 L41.81 536.79 L41.53 532.14 L41.16 527.49 L40.98 521.91 L40.88 517.72 L41.72 522.84 L42.37 527.49 L42.84 530.74 L43.30 533.07 L44.70 534.65 L46.19 533.26 L46.37 531.67 L45.26 529.35 L44.42 524.70 L43.95 518.19 L43.40 512.60 L42.09 509.07 L39.12 507.95 L36.33 507.02 L35.67 504.98 Z" stroke="#000" stroke-width="0.3" stroke-linejoin="round"/></g>
<text x="53.80" y="509.20" font-size="8.3" textLength="94.50" lengthAdjust="spacingAndGlyphs" stroke="#231f20" stroke-width="0.24">Differential splicing events</text>
<text x="180.00" y="516.60" font-size="7.7" text-anchor="middle" fill="#3d6fa3" textLength="29.00" lengthAdjust="spacingAndGlyphs" stroke="#3d6fa3" stroke-width="0.24"><tspan font-style="italic">EVI1-r</tspan> (–)</text>
<text x="153.70" y="526.60" font-size="7.7" fill="#3d6fa3" textLength="54.30" lengthAdjust="spacingAndGlyphs" stroke="#3d6fa3" stroke-width="0.24"><tspan font-style="italic">SF3B1</tspan>-mutated</text>
<defs><clipPath id="fB"><ellipse cx="125.6" cy="573.0" rx="48.1" ry="52.8"/></clipPath><clipPath id="fP"><ellipse cx="111.9" cy="606.2" rx="34.7" ry="39.4"/></clipPath><clipPath id="fG"><circle cx="138.6" cy="608.8" r="32.6"/></clipPath></defs>
<ellipse cx="125.6" cy="573.0" rx="48.1" ry="52.8" fill="#bfd3e2"/>
<ellipse cx="111.9" cy="606.2" rx="34.7" ry="39.4" fill="#ebb5c1"/>
<circle cx="138.6" cy="608.8" r="32.6" fill="#c6e6c6"/>
<g clip-path="url(#fB)"><ellipse cx="111.9" cy="606.2" rx="34.7" ry="39.4" fill="#ae8fa5"/><circle cx="138.6" cy="608.8" r="32.6" fill="#98baab"/></g>
<g clip-path="url(#fP)"><circle cx="138.6" cy="608.8" r="32.6" fill="#c9ae9b"/></g>
<g clip-path="url(#fB)"><g clip-path="url(#fP)"><circle cx="138.6" cy="608.8" r="32.6" fill="#8f928a"/></g></g>
<text x="123.80" y="549.00" font-size="8.4" text-anchor="middle" textLength="19.55" lengthAdjust="spacingAndGlyphs" stroke="#231f20" stroke-width="0.24">2,146</text>
<text x="95.40" y="594.50" font-size="8.4" text-anchor="middle" textLength="13.03" lengthAdjust="spacingAndGlyphs" stroke="#231f20" stroke-width="0.24">664</text>
<text x="130.80" y="606.80" font-size="8.4" text-anchor="middle" textLength="13.03" lengthAdjust="spacingAndGlyphs" stroke="#231f20" stroke-width="0.24">919</text>
<text x="156.20" y="599.10" font-size="8.4" text-anchor="middle" textLength="13.03" lengthAdjust="spacingAndGlyphs" stroke="#231f20" stroke-width="0.24">465</text>
<text x="98.70" y="633.20" font-size="8.4" text-anchor="middle" textLength="13.03" lengthAdjust="spacingAndGlyphs" stroke="#231f20" stroke-width="0.24">380</text>
<text x="128.20" y="634.80" font-size="8.4" text-anchor="middle" textLength="8.69" lengthAdjust="spacingAndGlyphs" stroke="#231f20" stroke-width="0.24">75</text>
<text x="156.40" y="629.20" font-size="8.4" text-anchor="middle" textLength="12.45" lengthAdjust="spacingAndGlyphs" stroke="#231f20" stroke-width="0.24">119</text>
<text x="76.60" y="625.20" font-size="7.7" text-anchor="end" fill="#d0234f" textLength="33.00" lengthAdjust="spacingAndGlyphs" stroke="#d0234f" stroke-width="0.24"><tspan font-style="italic">EVI1-r</tspan> (+)</text>
<text x="76.60" y="635.20" font-size="7.7" text-anchor="end" fill="#d0234f" textLength="55.50" lengthAdjust="spacingAndGlyphs" stroke="#d0234f" stroke-width="0.24"><tspan font-style="italic">SF3B1</tspan>-mutated</text>
<text x="188.80" y="623.80" font-size="7.7" text-anchor="middle" fill="#4db848" textLength="31.70" lengthAdjust="spacingAndGlyphs" stroke="#4db848" stroke-width="0.24"><tspan font-style="italic">EVI1-r</tspan> (+)</text>
<text x="188.90" y="633.40" font-size="7.7" text-anchor="middle" fill="#4db848" textLength="21.80" lengthAdjust="spacingAndGlyphs" stroke="#4db848" stroke-width="0.24"><tspan font-style="italic">SF3B1</tspan></text>
<text x="188.80" y="643.00" font-size="7.7" text-anchor="middle" fill="#4db848" textLength="29.90" lengthAdjust="spacingAndGlyphs" stroke="#4db848" stroke-width="0.24">wildtype</text>
<text x="272.20" y="447.80" font-size="11.5" font-weight="bold" fill="#000" stroke="#000" stroke-width="0.3">G</text>
<path d="M308.8 480.6V546.9H374.6" fill="none" stroke="#231f20" stroke-width="1.5"/>
<path d="M311.6 546.9v2.6M370.4 546.9v2.6" stroke="#231f20" stroke-width="0.8"/>
<text x="311.60" y="559.20" font-size="8.3" text-anchor="middle" textLength="4.10" lengthAdjust="spacingAndGlyphs" stroke="#231f20" stroke-width="0.24">0</text>
<text x="370.40" y="559.20" font-size="8.3" text-anchor="middle" textLength="4.10" lengthAdjust="spacingAndGlyphs" stroke="#231f20" stroke-width="0.24">1</text>
<path d="M305.5 484.2H308.8M305.5 542.7H308.8" stroke="#231f20" stroke-width="0.8"/>
<text x="302.20" y="487.20" font-size="8.3" text-anchor="end" textLength="4.10" lengthAdjust="spacingAndGlyphs" stroke="#231f20" stroke-width="0.24">1</text>
<text x="302.20" y="545.70" font-size="8.3" text-anchor="end" textLength="4.10" lengthAdjust="spacingAndGlyphs" stroke="#231f20" stroke-width="0.24">0</text>
<g fill="#3db549"><circle cx="359.54" cy="484.90" r="1.5"/><circle cx="362.76" cy="485.41" r="1.5"/><circle cx="357.61" cy="487.09" r="1.5"/><circle cx="356.32" cy="489.66" r="1.5"/><circle cx="353.74" cy="491.60" r="1.5"/><circle cx="352.45" cy="492.88" r="1.5"/><circle cx="353.10" cy="494.17" r="1.5"/><circle cx="367.91" cy="492.88" r="1.5"/><circle cx="365.98" cy="495.46" r="1.5"/><circle cx="364.69" cy="496.75" r="1.5"/><circle cx="362.76" cy="498.04" r="1.5"/><circle cx="360.83" cy="499.33" r="1.5"/><circle cx="359.54" cy="500.62" r="1.5"/><circle cx="356.96" cy="503.84" r="1.5"/><circle cx="355.03" cy="505.77" r="1.5"/><circle cx="353.10" cy="507.70" r="1.5"/><circle cx="351.81" cy="508.99" r="1.5"/><circle cx="350.52" cy="510.28" r="1.5"/><circle cx="347.94" cy="512.21" r="1.5"/><circle cx="346.01" cy="514.15" r="1.5"/><circle cx="344.72" cy="516.08" r="1.5"/><circle cx="342.79" cy="518.65" r="1.5"/><circle cx="341.50" cy="521.23" r="1.5"/><circle cx="338.92" cy="522.52" r="1.5"/><circle cx="336.99" cy="524.45" r="1.5"/><circle cx="335.06" cy="526.39" r="1.5"/><circle cx="333.77" cy="527.67" r="1.5"/><circle cx="331.84" cy="529.61" r="1.5"/><circle cx="329.90" cy="531.54" r="1.5"/><circle cx="328.62" cy="532.83" r="1.5"/><circle cx="326.68" cy="535.41" r="1.5"/><circle cx="324.75" cy="537.34" r="1.5"/><circle cx="322.82" cy="538.63" r="1.5"/><circle cx="320.88" cy="539.91" r="1.5"/><circle cx="321.53" cy="541.20" r="1.5"/><circle cx="324.11" cy="539.27" r="1.5"/><circle cx="345.37" cy="499.33" r="1.5"/><circle cx="344.72" cy="501.90" r="1.5"/><circle cx="342.15" cy="504.48" r="1.5"/><circle cx="339.57" cy="505.77" r="1.5"/><circle cx="338.28" cy="508.35" r="1.5"/><circle cx="335.70" cy="510.92" r="1.5"/><circle cx="334.41" cy="512.21" r="1.5"/><circle cx="331.19" cy="514.79" r="1.5"/><circle cx="329.26" cy="516.72" r="1.5"/><circle cx="327.97" cy="518.65" r="1.5"/><circle cx="322.82" cy="524.45" r="1.5"/><circle cx="315.73" cy="532.18" r="1.5"/><circle cx="338.28" cy="504.48" r="1.5"/><circle cx="342.79" cy="501.26" r="1.5"/><circle cx="356.32" cy="507.06" r="1.5"/><circle cx="358.25" cy="505.13" r="1.5"/><circle cx="367.27" cy="496.75" r="1.5"/><circle cx="365.34" cy="498.68" r="1.5"/><circle cx="333.77" cy="528.96" r="1.5"/><circle cx="330.55" cy="532.18" r="1.5"/><circle cx="325.39" cy="536.69" r="1.5"/></g>
<g fill="#1f4e8c"><circle cx="343.43" cy="485.41" r="1.5"/><circle cx="344.72" cy="487.99" r="1.5"/><circle cx="342.79" cy="490.31" r="1.5"/><circle cx="340.86" cy="491.60" r="1.5"/><circle cx="338.92" cy="492.24" r="1.5"/><circle cx="337.64" cy="493.53" r="1.5"/><circle cx="340.21" cy="493.92" r="1.5"/><circle cx="341.76" cy="494.82" r="1.5"/><circle cx="346.01" cy="492.88" r="1.5"/><circle cx="346.65" cy="494.82" r="1.5"/><circle cx="343.43" cy="496.75" r="1.5"/><circle cx="342.53" cy="498.04" r="1.5"/><circle cx="339.57" cy="498.68" r="1.5"/><circle cx="336.60" cy="496.75" r="1.5"/><circle cx="335.06" cy="499.97" r="1.5"/><circle cx="333.77" cy="501.26" r="1.5"/><circle cx="331.84" cy="501.90" r="1.5"/><circle cx="330.55" cy="503.19" r="1.5"/><circle cx="329.26" cy="504.48" r="1.5"/><circle cx="328.62" cy="505.77" r="1.5"/><circle cx="329.90" cy="497.39" r="1.5"/><circle cx="324.75" cy="500.62" r="1.5"/><circle cx="324.11" cy="505.13" r="1.5"/><circle cx="325.39" cy="506.41" r="1.5"/><circle cx="317.66" cy="505.77" r="1.5"/><circle cx="316.76" cy="507.70" r="1.5"/><circle cx="315.73" cy="509.64" r="1.5"/><circle cx="311.87" cy="514.15" r="1.5"/><circle cx="313.80" cy="516.08" r="1.5"/><circle cx="313.15" cy="518.01" r="1.5"/><circle cx="315.09" cy="518.65" r="1.5"/><circle cx="316.38" cy="519.94" r="1.5"/><circle cx="317.66" cy="518.65" r="1.5"/><circle cx="318.95" cy="516.72" r="1.5"/><circle cx="320.24" cy="514.79" r="1.5"/><circle cx="321.53" cy="512.86" r="1.5"/><circle cx="322.82" cy="514.15" r="1.5"/><circle cx="320.88" cy="517.37" r="1.5"/><circle cx="323.46" cy="516.72" r="1.5"/><circle cx="319.60" cy="519.94" r="1.5"/><circle cx="318.31" cy="521.23" r="1.5"/><circle cx="316.38" cy="525.74" r="1.5"/><circle cx="318.31" cy="527.67" r="1.5"/><circle cx="322.17" cy="512.21" r="1.5"/><circle cx="319.60" cy="512.21" r="1.5"/><circle cx="351.81" cy="489.02" r="1.5"/><circle cx="353.74" cy="487.73" r="1.5"/><circle cx="355.67" cy="486.44" r="1.5"/><circle cx="340.21" cy="501.90" r="1.5"/><circle cx="335.70" cy="506.41" r="1.5"/><circle cx="323.46" cy="515.43" r="1.5"/></g>
<g fill="#c8102e"><circle cx="369.85" cy="499.97" r="1.5"/><circle cx="368.56" cy="501.90" r="1.5"/><circle cx="367.27" cy="503.84" r="1.5"/><circle cx="365.98" cy="505.13" r="1.5"/><circle cx="364.69" cy="504.48" r="1.5"/><circle cx="363.41" cy="506.41" r="1.5"/><circle cx="362.12" cy="507.06" r="1.5"/><circle cx="369.85" cy="505.77" r="1.5"/><circle cx="371.14" cy="508.35" r="1.5"/><circle cx="369.20" cy="510.92" r="1.5"/><circle cx="370.49" cy="513.50" r="1.5"/><circle cx="360.18" cy="509.64" r="1.5"/><circle cx="358.25" cy="510.92" r="1.5"/><circle cx="360.83" cy="514.15" r="1.5"/><circle cx="358.90" cy="514.15" r="1.5"/><circle cx="356.96" cy="514.79" r="1.5"/><circle cx="354.39" cy="516.08" r="1.5"/><circle cx="352.45" cy="517.37" r="1.5"/><circle cx="350.52" cy="518.65" r="1.5"/><circle cx="349.23" cy="515.43" r="1.5"/><circle cx="351.81" cy="521.23" r="1.5"/><circle cx="353.74" cy="523.16" r="1.5"/><circle cx="355.03" cy="525.74" r="1.5"/><circle cx="356.96" cy="528.32" r="1.5"/><circle cx="358.90" cy="530.90" r="1.5"/><circle cx="362.12" cy="521.23" r="1.5"/><circle cx="365.98" cy="521.88" r="1.5"/><circle cx="355.03" cy="519.94" r="1.5"/><circle cx="346.65" cy="523.81" r="1.5"/><circle cx="345.37" cy="525.10" r="1.5"/><circle cx="344.08" cy="527.03" r="1.5"/><circle cx="341.50" cy="528.32" r="1.5"/><circle cx="340.21" cy="530.25" r="1.5"/><circle cx="338.92" cy="531.54" r="1.5"/><circle cx="337.64" cy="533.47" r="1.5"/><circle cx="336.35" cy="534.76" r="1.5"/><circle cx="335.06" cy="535.41" r="1.5"/><circle cx="333.77" cy="536.69" r="1.5"/><circle cx="332.48" cy="537.98" r="1.5"/><circle cx="330.55" cy="538.63" r="1.5"/><circle cx="328.62" cy="539.27" r="1.5"/><circle cx="335.70" cy="539.91" r="1.5"/><circle cx="333.77" cy="540.56" r="1.5"/><circle cx="346.65" cy="530.90" r="1.5"/><circle cx="347.94" cy="532.83" r="1.5"/><circle cx="345.37" cy="534.12" r="1.5"/><circle cx="342.79" cy="535.41" r="1.5"/><circle cx="340.86" cy="536.69" r="1.5"/><circle cx="338.92" cy="537.98" r="1.5"/><circle cx="341.50" cy="532.83" r="1.5"/><circle cx="343.43" cy="530.90" r="1.5"/><circle cx="349.23" cy="527.03" r="1.5"/><circle cx="350.52" cy="530.25" r="1.5"/><circle cx="349.23" cy="541.20" r="1.5"/><circle cx="351.81" cy="536.69" r="1.5"/><circle cx="353.10" cy="532.83" r="1.5"/><circle cx="359.54" cy="521.23" r="1.5"/><circle cx="347.94" cy="518.65" r="1.5"/><circle cx="345.37" cy="529.61" r="1.5"/><circle cx="339.57" cy="527.67" r="1.5"/><circle cx="337.64" cy="528.96" r="1.5"/><circle cx="344.08" cy="532.83" r="1.5"/></g>
<text x="313.20" y="488.20" font-size="8.0" fill="#2d5f9a" stroke="#2d5f9a" stroke-width="0.24">47</text>
<text x="359.60" y="543.40" font-size="8.0" fill="#c8102e" stroke="#c8102e" stroke-width="0.24">69</text>
<rect x="323.0" y="450.85" width="8.5" height="3.5" fill="#3db549"/>
<rect x="349.7" y="450.85" width="4.8" height="3.5" fill="#c8102e"/>
<rect x="354.5" y="450.85" width="8.7" height="3.5" fill="#3db549"/>
<path d="M331.5 452.3L340.6 448.0L349.7 451.0M331.5 452.90000000000003L343.2 458.40000000000003L349.7 454.3" fill="none" stroke="#3db549" stroke-width="0.9"/>
<text x="343.00" y="468.40" font-size="8.3" text-anchor="middle" textLength="38.80" lengthAdjust="spacingAndGlyphs" stroke="#231f20" stroke-width="0.24">Alternative</text>
<text x="343.20" y="478.20" font-size="8.3" text-anchor="middle" textLength="15.20" lengthAdjust="spacingAndGlyphs" stroke="#231f20" stroke-width="0.24">3′ ss</text>
<path d="M377.6 546.9H443.4" fill="none" stroke="#231f20" stroke-width="1.5"/>
<path d="M381.3 546.9v2.6M440.4 546.9v2.6" stroke="#231f20" stroke-width="0.8"/>
<text x="381.30" y="559.20" font-size="8.3" text-anchor="middle" textLength="4.10" lengthAdjust="spacingAndGlyphs" stroke="#231f20" stroke-width="0.24">0</text>
<text x="440.40" y="559.20" font-size="8.3" text-anchor="middle" textLength="4.10" lengthAdjust="spacingAndGlyphs" stroke="#231f20" stroke-width="0.24">1</text>
<g fill="#3db549"><circle cx="428.25" cy="487.47" r="1.5"/><circle cx="427.61" cy="490.05" r="1.5"/><circle cx="422.45" cy="490.95" r="1.5"/><circle cx="421.16" cy="494.17" r="1.5"/><circle cx="419.23" cy="495.46" r="1.5"/><circle cx="417.94" cy="496.75" r="1.5"/><circle cx="416.65" cy="498.04" r="1.5"/><circle cx="415.37" cy="499.33" r="1.5"/><circle cx="412.15" cy="501.26" r="1.5"/><circle cx="410.86" cy="503.19" r="1.5"/><circle cx="409.57" cy="507.06" r="1.5"/><circle cx="408.92" cy="508.99" r="1.5"/><circle cx="406.99" cy="509.64" r="1.5"/><circle cx="405.70" cy="510.92" r="1.5"/><circle cx="403.13" cy="513.50" r="1.5"/><circle cx="401.19" cy="514.79" r="1.5"/><circle cx="399.90" cy="516.72" r="1.5"/><circle cx="397.97" cy="518.65" r="1.5"/><circle cx="396.04" cy="521.23" r="1.5"/><circle cx="392.17" cy="521.23" r="1.5"/><circle cx="390.88" cy="523.16" r="1.5"/><circle cx="387.66" cy="525.74" r="1.5"/><circle cx="386.38" cy="527.03" r="1.5"/><circle cx="383.15" cy="530.90" r="1.5"/><circle cx="382.51" cy="534.12" r="1.5"/><circle cx="435.98" cy="495.46" r="1.5"/><circle cx="432.12" cy="501.90" r="1.5"/><circle cx="429.54" cy="503.19" r="1.5"/><circle cx="427.61" cy="504.48" r="1.5"/><circle cx="425.67" cy="507.06" r="1.5"/><circle cx="423.74" cy="510.92" r="1.5"/><circle cx="420.52" cy="512.21" r="1.5"/><circle cx="419.23" cy="514.15" r="1.5"/><circle cx="417.30" cy="516.08" r="1.5"/><circle cx="414.72" cy="517.37" r="1.5"/><circle cx="413.43" cy="521.23" r="1.5"/><circle cx="410.21" cy="522.52" r="1.5"/><circle cx="408.28" cy="524.45" r="1.5"/><circle cx="405.70" cy="525.74" r="1.5"/><circle cx="405.06" cy="529.61" r="1.5"/><circle cx="401.19" cy="530.90" r="1.5"/><circle cx="398.62" cy="532.83" r="1.5"/><circle cx="398.62" cy="534.76" r="1.5"/><circle cx="394.11" cy="537.98" r="1.5"/><circle cx="390.88" cy="540.56" r="1.5"/><circle cx="390.24" cy="542.49" r="1.5"/><circle cx="410.86" cy="507.06" r="1.5"/></g>
<g fill="#1f4e8c"><circle cx="389.60" cy="491.34" r="1.5"/><circle cx="385.73" cy="496.11" r="1.5"/><circle cx="417.94" cy="484.12" r="1.5"/><circle cx="425.67" cy="484.12" r="1.5"/><circle cx="416.65" cy="488.38" r="1.5"/><circle cx="419.23" cy="489.02" r="1.5"/><circle cx="420.52" cy="490.05" r="1.5"/><circle cx="411.50" cy="488.38" r="1.5"/><circle cx="403.77" cy="492.24" r="1.5"/><circle cx="404.41" cy="494.17" r="1.5"/><circle cx="409.57" cy="494.17" r="1.5"/><circle cx="414.72" cy="492.88" r="1.5"/><circle cx="412.79" cy="496.75" r="1.5"/><circle cx="413.43" cy="498.04" r="1.5"/><circle cx="407.64" cy="499.97" r="1.5"/><circle cx="408.28" cy="502.55" r="1.5"/><circle cx="406.99" cy="503.84" r="1.5"/><circle cx="409.57" cy="501.90" r="1.5"/><circle cx="394.75" cy="500.62" r="1.5"/><circle cx="393.46" cy="505.77" r="1.5"/><circle cx="395.39" cy="507.06" r="1.5"/><circle cx="396.68" cy="508.35" r="1.5"/><circle cx="403.13" cy="507.06" r="1.5"/><circle cx="400.55" cy="510.28" r="1.5"/><circle cx="399.26" cy="512.21" r="1.5"/><circle cx="397.97" cy="514.15" r="1.5"/><circle cx="395.39" cy="516.08" r="1.5"/><circle cx="399.90" cy="513.50" r="1.5"/><circle cx="401.84" cy="511.57" r="1.5"/><circle cx="396.04" cy="505.13" r="1.5"/></g>
<g fill="#c8102e"><circle cx="440.49" cy="496.75" r="1.5"/><circle cx="437.91" cy="501.26" r="1.5"/><circle cx="435.98" cy="503.19" r="1.5"/><circle cx="439.85" cy="508.35" r="1.5"/><circle cx="429.54" cy="508.99" r="1.5"/><circle cx="428.25" cy="510.92" r="1.5"/><circle cx="433.41" cy="512.21" r="1.5"/><circle cx="437.27" cy="516.08" r="1.5"/><circle cx="425.67" cy="512.86" r="1.5"/><circle cx="425.03" cy="514.79" r="1.5"/><circle cx="426.96" cy="516.08" r="1.5"/><circle cx="426.32" cy="519.94" r="1.5"/><circle cx="430.83" cy="523.81" r="1.5"/><circle cx="434.69" cy="520.59" r="1.5"/><circle cx="419.23" cy="518.65" r="1.5"/><circle cx="419.23" cy="522.52" r="1.5"/><circle cx="415.37" cy="526.39" r="1.5"/><circle cx="416.65" cy="530.90" r="1.5"/><circle cx="417.30" cy="532.83" r="1.5"/><circle cx="413.43" cy="534.76" r="1.5"/><circle cx="421.81" cy="535.41" r="1.5"/><circle cx="415.37" cy="539.27" r="1.5"/><circle cx="409.57" cy="528.96" r="1.5"/><circle cx="408.28" cy="530.90" r="1.5"/><circle cx="406.99" cy="532.83" r="1.5"/><circle cx="405.06" cy="534.12" r="1.5"/><circle cx="403.77" cy="536.05" r="1.5"/><circle cx="402.48" cy="537.34" r="1.5"/><circle cx="400.55" cy="539.27" r="1.5"/><circle cx="398.62" cy="541.20" r="1.5"/><circle cx="407.64" cy="539.27" r="1.5"/><circle cx="408.28" cy="543.14" r="1.5"/><circle cx="403.13" cy="539.91" r="1.5"/><circle cx="397.97" cy="543.14" r="1.5"/><circle cx="433.41" cy="529.61" r="1.5"/><circle cx="410.21" cy="532.83" r="1.5"/><circle cx="405.70" cy="536.69" r="1.5"/></g>
<text x="384.80" y="488.20" font-size="8.0" fill="#2d5f9a" stroke="#2d5f9a" stroke-width="0.24">33</text>
<text x="430.80" y="543.20" font-size="8.0" fill="#c8102e" stroke="#c8102e" stroke-width="0.24">43</text>
<rect x="391.2" y="450.85" width="8.65" height="3.5" fill="#3db549"/>
<rect x="399.84999999999997" y="450.85" width="5.1" height="3.5" fill="#c8102e"/>
<rect x="422.95" y="450.85" width="8.8" height="3.5" fill="#3db549"/>
<path d="M404.95 451.0L413.7 448.0L422.95 452.3M404.95 454.3L411.3 458.40000000000003L422.95 452.90000000000003" fill="none" stroke="#3db549" stroke-width="0.9"/>
<text x="411.50" y="468.40" font-size="8.3" text-anchor="middle" textLength="39.20" lengthAdjust="spacingAndGlyphs" stroke="#231f20" stroke-width="0.24">Alternative</text>
<text x="411.70" y="478.20" font-size="8.3" text-anchor="middle" textLength="15.20" lengthAdjust="spacingAndGlyphs" stroke="#231f20" stroke-width="0.24">5′ ss</text>
<path d="M446.9 546.9H513.8" fill="none" stroke="#231f20" stroke-width="1.5"/>
<path d="M450.2 546.9v2.6M509.4 546.9v2.6" stroke="#231f20" stroke-width="0.8"/>
<text x="450.20" y="559.20" font-size="8.3" text-anchor="middle" textLength="4.10" lengthAdjust="spacingAndGlyphs" stroke="#231f20" stroke-width="0.24">0</text>
<text x="509.40" y="559.20" font-size="8.3" text-anchor="middle" textLength="4.10" lengthAdjust="spacingAndGlyphs" stroke="#231f20" stroke-width="0.24">1</text>
<g fill="#3db549"><circle cx="458.49" cy="523.98" r="1.5"/><circle cx="461.45" cy="525.74" r="1.5"/><circle cx="462.63" cy="539.78" r="1.5"/><circle cx="467.37" cy="534.51" r="1.5"/><circle cx="469.14" cy="513.45" r="1.5"/><circle cx="476.84" cy="526.90" r="1.5"/><circle cx="482.76" cy="503.50" r="1.5"/><circle cx="483.35" cy="502.92" r="1.5"/><circle cx="487.50" cy="500.58" r="1.5"/><circle cx="488.68" cy="496.49" r="1.5"/><circle cx="492.23" cy="489.46" r="1.5"/><circle cx="496.38" cy="505.85" r="1.5"/><circle cx="488.68" cy="514.62" r="1.5"/><circle cx="478.02" cy="526.32" r="1.5"/><circle cx="483.94" cy="504.68" r="1.5"/></g>
<g fill="#1f4e8c"><circle cx="450.79" cy="506.43" r="1.5"/><circle cx="450.20" cy="517.55" r="1.5"/><circle cx="451.98" cy="525.74" r="1.5"/><circle cx="453.75" cy="527.49" r="1.5"/><circle cx="454.34" cy="525.74" r="1.5"/><circle cx="457.30" cy="498.24" r="1.5"/><circle cx="459.67" cy="511.11" r="1.5"/><circle cx="459.67" cy="516.38" r="1.5"/><circle cx="460.26" cy="519.30" r="1.5"/><circle cx="462.63" cy="507.01" r="1.5"/><circle cx="463.82" cy="511.11" r="1.5"/><circle cx="464.41" cy="514.03" r="1.5"/><circle cx="467.96" cy="505.26" r="1.5"/><circle cx="469.14" cy="511.69" r="1.5"/><circle cx="470.92" cy="500.58" r="1.5"/><circle cx="472.10" cy="504.68" r="1.5"/><circle cx="473.29" cy="497.07" r="1.5"/><circle cx="475.06" cy="498.82" r="1.5"/><circle cx="476.25" cy="494.73" r="1.5"/><circle cx="477.43" cy="500.58" r="1.5"/><circle cx="478.62" cy="484.20" r="1.5"/><circle cx="479.80" cy="494.73" r="1.5"/><circle cx="492.23" cy="484.20" r="1.5"/><circle cx="491.64" cy="489.46" r="1.5"/><circle cx="460.86" cy="513.45" r="1.5"/><circle cx="466.18" cy="507.60" r="1.5"/><circle cx="469.74" cy="502.92" r="1.5"/><circle cx="474.47" cy="501.75" r="1.5"/><circle cx="453.16" cy="525.15" r="1.5"/><circle cx="462.04" cy="509.36" r="1.5"/><circle cx="466.78" cy="506.43" r="1.5"/></g>
<g fill="#c8102e"><circle cx="471.51" cy="538.61" r="1.5"/><circle cx="476.25" cy="538.61" r="1.5"/><circle cx="473.29" cy="533.34" r="1.5"/><circle cx="478.02" cy="529.25" r="1.5"/><circle cx="482.17" cy="533.34" r="1.5"/><circle cx="484.54" cy="531.00" r="1.5"/><circle cx="489.27" cy="533.34" r="1.5"/><circle cx="495.19" cy="533.34" r="1.5"/><circle cx="488.68" cy="518.72" r="1.5"/><circle cx="496.38" cy="511.69" r="1.5"/><circle cx="498.74" cy="521.64" r="1.5"/><circle cx="498.74" cy="508.77" r="1.5"/><circle cx="502.89" cy="508.77" r="1.5"/><circle cx="503.48" cy="509.94" r="1.5"/><circle cx="508.81" cy="503.50" r="1.5"/><circle cx="509.40" cy="514.03" r="1.5"/></g>
<text x="449.80" y="488.20" font-size="8.0" fill="#2d5f9a" stroke="#2d5f9a" stroke-width="0.24">31</text>
<text x="500.60" y="543.20" font-size="8.0" fill="#c8102e" stroke="#c8102e" stroke-width="0.24">16</text>
<rect x="453.3" y="451.29999999999995" width="8.6" height="3.2" fill="#3db549"/>
<rect x="469.1" y="451.69999999999993" width="8.9" height="3.2" fill="#c8102e"/>
<rect x="484.6" y="451.29999999999995" width="7.7" height="3.2" fill="#3db549"/>
<rect x="499.1" y="451.29999999999995" width="7.9" height="3.2" fill="#3db549"/>
<path d="M461.90000000000003 451.7L465.3 447.4L469.1 451.9M478.0 451.9L488.2 448.2L499.1 451.7M461.90000000000003 454.29999999999995L473.2 458.09999999999997L484.6 454.29999999999995M492.3 454.29999999999995L495.5 457.7L499.1 454.29999999999995" fill="none" stroke="#3db549" stroke-width="0.9"/>
<text x="480.50" y="468.40" font-size="8.3" text-anchor="middle" textLength="30.50" lengthAdjust="spacingAndGlyphs" stroke="#231f20" stroke-width="0.24">Mutually</text>
<text x="480.50" y="478.20" font-size="8.3" text-anchor="middle" textLength="51.40" lengthAdjust="spacingAndGlyphs" stroke="#231f20" stroke-width="0.24">exclusive exon</text>
<path d="M308.5 611.0V677.0H373.9" fill="none" stroke="#231f20" stroke-width="1.5"/>
<path d="M311.3 677.0v2.6M370.0 677.0v2.6" stroke="#231f20" stroke-width="0.8"/>
<text x="311.30" y="689.30" font-size="8.3" text-anchor="middle" textLength="4.10" lengthAdjust="spacingAndGlyphs" stroke="#231f20" stroke-width="0.24">0</text>
<text x="370.00" y="689.30" font-size="8.3" text-anchor="middle" textLength="4.10" lengthAdjust="spacingAndGlyphs" stroke="#231f20" stroke-width="0.24">1</text>
<path d="M305.2 614.1H308.5M305.2 673.0H308.5" stroke="#231f20" stroke-width="0.8"/>
<text x="301.90" y="617.10" font-size="8.3" text-anchor="end" textLength="4.10" lengthAdjust="spacingAndGlyphs" stroke="#231f20" stroke-width="0.24">1</text>
<text x="301.90" y="676.00" font-size="8.3" text-anchor="end" textLength="4.10" lengthAdjust="spacingAndGlyphs" stroke="#231f20" stroke-width="0.24">0</text>
<g fill="#3db549"><circle cx="321.87" cy="670.64" r="1.5"/><circle cx="324.21" cy="668.29" r="1.5"/><circle cx="325.98" cy="665.93" r="1.5"/><circle cx="327.15" cy="664.16" r="1.5"/><circle cx="328.91" cy="662.40" r="1.5"/><circle cx="330.67" cy="660.04" r="1.5"/><circle cx="331.85" cy="658.27" r="1.5"/><circle cx="333.61" cy="656.51" r="1.5"/><circle cx="334.78" cy="657.10" r="1.5"/><circle cx="335.95" cy="655.33" r="1.5"/><circle cx="337.72" cy="652.38" r="1.5"/><circle cx="339.48" cy="650.62" r="1.5"/><circle cx="340.65" cy="649.44" r="1.5"/><circle cx="341.82" cy="648.26" r="1.5"/><circle cx="343.59" cy="646.50" r="1.5"/><circle cx="346.52" cy="643.55" r="1.5"/><circle cx="348.28" cy="644.73" r="1.5"/><circle cx="350.04" cy="640.61" r="1.5"/><circle cx="353.56" cy="637.66" r="1.5"/><circle cx="355.32" cy="636.48" r="1.5"/><circle cx="358.26" cy="634.13" r="1.5"/><circle cx="361.19" cy="631.77" r="1.5"/><circle cx="364.13" cy="630.00" r="1.5"/><circle cx="365.89" cy="627.65" r="1.5"/><circle cx="367.06" cy="627.06" r="1.5"/><circle cx="344.76" cy="628.83" r="1.5"/><circle cx="347.69" cy="622.94" r="1.5"/><circle cx="353.56" cy="620.58" r="1.5"/><circle cx="317.17" cy="658.27" r="1.5"/><circle cx="320.11" cy="654.15" r="1.5"/><circle cx="323.04" cy="669.47" r="1.5"/><circle cx="327.74" cy="661.22" r="1.5"/><circle cx="333.02" cy="655.33" r="1.5"/><circle cx="338.30" cy="653.56" r="1.5"/><circle cx="345.35" cy="645.91" r="1.5"/><circle cx="351.22" cy="639.43" r="1.5"/><circle cx="360.02" cy="632.36" r="1.5"/><circle cx="367.65" cy="628.24" r="1.5"/></g>
<g fill="#1f4e8c"><circle cx="313.65" cy="638.25" r="1.5"/><circle cx="315.41" cy="638.25" r="1.5"/><circle cx="317.17" cy="639.43" r="1.5"/><circle cx="314.24" cy="640.61" r="1.5"/><circle cx="313.65" cy="643.55" r="1.5"/><circle cx="318.93" cy="643.55" r="1.5"/><circle cx="314.24" cy="648.26" r="1.5"/><circle cx="314.24" cy="655.92" r="1.5"/><circle cx="313.65" cy="659.45" r="1.5"/><circle cx="325.39" cy="633.54" r="1.5"/><circle cx="333.61" cy="625.88" r="1.5"/><circle cx="336.54" cy="635.30" r="1.5"/><circle cx="343.00" cy="625.29" r="1.5"/><circle cx="347.69" cy="621.76" r="1.5"/><circle cx="352.98" cy="618.81" r="1.5"/></g>
<g fill="#c8102e"><circle cx="330.08" cy="664.75" r="1.5"/><circle cx="337.72" cy="661.22" r="1.5"/><circle cx="339.48" cy="662.99" r="1.5"/><circle cx="340.65" cy="664.16" r="1.5"/><circle cx="341.82" cy="660.04" r="1.5"/><circle cx="343.59" cy="658.27" r="1.5"/><circle cx="340.65" cy="656.51" r="1.5"/><circle cx="343.59" cy="655.33" r="1.5"/><circle cx="343.59" cy="652.38" r="1.5"/><circle cx="349.45" cy="655.33" r="1.5"/><circle cx="351.22" cy="648.26" r="1.5"/><circle cx="355.32" cy="652.38" r="1.5"/><circle cx="357.09" cy="647.08" r="1.5"/><circle cx="358.26" cy="654.15" r="1.5"/><circle cx="361.19" cy="645.91" r="1.5"/><circle cx="367.06" cy="637.66" r="1.5"/><circle cx="368.83" cy="636.48" r="1.5"/><circle cx="368.83" cy="634.72" r="1.5"/><circle cx="370.00" cy="655.33" r="1.5"/><circle cx="346.52" cy="670.05" r="1.5"/><circle cx="357.09" cy="671.23" r="1.5"/><circle cx="367.06" cy="628.83" r="1.5"/><circle cx="338.89" cy="658.86" r="1.5"/><circle cx="342.41" cy="662.40" r="1.5"/><circle cx="335.95" cy="662.40" r="1.5"/><circle cx="345.35" cy="657.10" r="1.5"/><circle cx="353.56" cy="649.44" r="1.5"/><circle cx="364.13" cy="642.37" r="1.5"/><circle cx="369.41" cy="632.36" r="1.5"/><circle cx="347.69" cy="653.56" r="1.5"/><circle cx="337.13" cy="664.16" r="1.5"/><circle cx="341.24" cy="661.22" r="1.5"/></g>
<text x="313.40" y="620.00" font-size="8.0" fill="#2d5f9a" stroke="#2d5f9a" stroke-width="0.24">14</text>
<text x="362.40" y="675.00" font-size="8.0" fill="#c8102e" stroke="#c8102e" stroke-width="0.24">32</text>
<rect x="322.9" y="583.0" width="40.8" height="3.6" fill="#3db549"/>
<rect x="332.0" y="583.0" width="22.6" height="3.6" fill="#c8102e"/>
<path d="M332.0 583.0L343.5 579.7L354.59999999999997 583.0" fill="none" stroke="#3db549" stroke-width="0.9"/>
<text x="342.50" y="598.60" font-size="8.3" text-anchor="middle" textLength="31.70" lengthAdjust="spacingAndGlyphs" stroke="#231f20" stroke-width="0.24">Retained</text>
<text x="342.90" y="608.20" font-size="8.3" text-anchor="middle" textLength="23.30" lengthAdjust="spacingAndGlyphs" stroke="#231f20" stroke-width="0.24">introns</text>
<path d="M377.0 677.0H444.4" fill="none" stroke="#231f20" stroke-width="1.5"/>
<path d="M381.0 677.0v2.6M440.1 677.0v2.6" stroke="#231f20" stroke-width="0.8"/>
<text x="381.00" y="689.30" font-size="8.3" text-anchor="middle" textLength="4.10" lengthAdjust="spacingAndGlyphs" stroke="#231f20" stroke-width="0.24">0</text>
<text x="440.10" y="689.30" font-size="8.3" text-anchor="middle" textLength="4.10" lengthAdjust="spacingAndGlyphs" stroke="#231f20" stroke-width="0.24">1</text>
<g fill="#3db549"><circle cx="434.05" cy="614.90" r="1.5"/><circle cx="430.83" cy="615.80" r="1.5"/><circle cx="426.96" cy="619.02" r="1.5"/><circle cx="422.45" cy="622.88" r="1.5"/><circle cx="425.03" cy="622.88" r="1.5"/><circle cx="420.52" cy="626.11" r="1.5"/><circle cx="419.23" cy="629.33" r="1.5"/><circle cx="413.43" cy="631.90" r="1.5"/><circle cx="414.72" cy="633.19" r="1.5"/><circle cx="412.15" cy="633.84" r="1.5"/><circle cx="408.92" cy="636.41" r="1.5"/><circle cx="406.35" cy="638.35" r="1.5"/><circle cx="405.70" cy="640.28" r="1.5"/><circle cx="403.13" cy="642.21" r="1.5"/><circle cx="401.19" cy="644.79" r="1.5"/><circle cx="399.26" cy="646.08" r="1.5"/><circle cx="394.75" cy="651.23" r="1.5"/><circle cx="393.46" cy="653.81" r="1.5"/><circle cx="390.88" cy="655.10" r="1.5"/><circle cx="390.24" cy="655.74" r="1.5"/><circle cx="383.80" cy="661.54" r="1.5"/><circle cx="385.09" cy="662.83" r="1.5"/><circle cx="438.56" cy="624.17" r="1.5"/><circle cx="437.27" cy="628.04" r="1.5"/><circle cx="433.41" cy="629.33" r="1.5"/><circle cx="430.83" cy="632.55" r="1.5"/><circle cx="429.54" cy="633.84" r="1.5"/><circle cx="425.67" cy="637.70" r="1.5"/><circle cx="422.45" cy="640.28" r="1.5"/><circle cx="420.52" cy="641.57" r="1.5"/><circle cx="415.37" cy="647.37" r="1.5"/><circle cx="412.79" cy="648.65" r="1.5"/><circle cx="410.21" cy="651.23" r="1.5"/><circle cx="408.92" cy="653.16" r="1.5"/><circle cx="406.99" cy="655.10" r="1.5"/><circle cx="405.70" cy="656.39" r="1.5"/><circle cx="402.48" cy="658.96" r="1.5"/><circle cx="401.84" cy="660.25" r="1.5"/><circle cx="400.55" cy="662.18" r="1.5"/><circle cx="399.26" cy="664.12" r="1.5"/><circle cx="397.97" cy="666.69" r="1.5"/><circle cx="390.88" cy="669.91" r="1.5"/><circle cx="392.17" cy="671.20" r="1.5"/></g>
<g fill="#1f4e8c"><circle cx="418.97" cy="614.12" r="1.5"/><circle cx="422.45" cy="617.47" r="1.5"/><circle cx="419.88" cy="622.24" r="1.5"/><circle cx="410.21" cy="620.05" r="1.5"/><circle cx="412.15" cy="622.24" r="1.5"/><circle cx="413.82" cy="622.88" r="1.5"/><circle cx="409.57" cy="624.17" r="1.5"/><circle cx="408.92" cy="626.11" r="1.5"/><circle cx="410.86" cy="626.11" r="1.5"/><circle cx="412.79" cy="626.75" r="1.5"/><circle cx="410.21" cy="628.04" r="1.5"/><circle cx="408.28" cy="629.33" r="1.5"/><circle cx="406.99" cy="630.62" r="1.5"/><circle cx="409.57" cy="631.26" r="1.5"/><circle cx="407.64" cy="633.19" r="1.5"/><circle cx="401.45" cy="626.49" r="1.5"/><circle cx="396.04" cy="628.04" r="1.5"/><circle cx="394.11" cy="629.97" r="1.5"/><circle cx="395.39" cy="631.90" r="1.5"/><circle cx="394.75" cy="634.48" r="1.5"/><circle cx="394.75" cy="637.06" r="1.5"/><circle cx="401.84" cy="635.13" r="1.5"/><circle cx="401.19" cy="637.70" r="1.5"/><circle cx="399.26" cy="639.64" r="1.5"/><circle cx="400.55" cy="640.92" r="1.5"/><circle cx="398.62" cy="641.57" r="1.5"/><circle cx="402.48" cy="642.86" r="1.5"/><circle cx="390.88" cy="641.57" r="1.5"/><circle cx="390.24" cy="642.86" r="1.5"/><circle cx="392.17" cy="642.21" r="1.5"/><circle cx="388.31" cy="644.15" r="1.5"/><circle cx="387.02" cy="644.79" r="1.5"/><circle cx="382.51" cy="644.79" r="1.5"/><circle cx="381.87" cy="648.65" r="1.5"/><circle cx="385.73" cy="646.08" r="1.5"/><circle cx="388.95" cy="647.37" r="1.5"/><circle cx="385.09" cy="649.94" r="1.5"/><circle cx="383.80" cy="651.88" r="1.5"/><circle cx="387.02" cy="652.52" r="1.5"/><circle cx="385.73" cy="654.45" r="1.5"/><circle cx="387.66" cy="653.81" r="1.5"/><circle cx="382.51" cy="658.32" r="1.5"/><circle cx="397.33" cy="645.43" r="1.5"/><circle cx="398.62" cy="644.15" r="1.5"/><circle cx="403.77" cy="640.28" r="1.5"/></g>
<g fill="#c8102e"><circle cx="441.14" cy="629.97" r="1.5"/><circle cx="439.85" cy="633.19" r="1.5"/><circle cx="438.56" cy="635.13" r="1.5"/><circle cx="441.14" cy="637.70" r="1.5"/><circle cx="436.63" cy="637.06" r="1.5"/><circle cx="434.69" cy="638.99" r="1.5"/><circle cx="432.12" cy="640.28" r="1.5"/><circle cx="433.41" cy="642.21" r="1.5"/><circle cx="437.27" cy="644.79" r="1.5"/><circle cx="438.56" cy="646.72" r="1.5"/><circle cx="430.83" cy="647.37" r="1.5"/><circle cx="426.96" cy="648.01" r="1.5"/><circle cx="425.67" cy="649.94" r="1.5"/><circle cx="423.74" cy="643.50" r="1.5"/><circle cx="421.81" cy="653.81" r="1.5"/><circle cx="424.39" cy="658.96" r="1.5"/><circle cx="426.32" cy="664.12" r="1.5"/><circle cx="418.59" cy="651.23" r="1.5"/><circle cx="415.37" cy="653.81" r="1.5"/><circle cx="414.08" cy="655.10" r="1.5"/><circle cx="412.79" cy="657.03" r="1.5"/><circle cx="410.86" cy="658.32" r="1.5"/><circle cx="408.92" cy="659.61" r="1.5"/><circle cx="406.99" cy="660.90" r="1.5"/><circle cx="405.70" cy="662.18" r="1.5"/><circle cx="407.64" cy="664.12" r="1.5"/><circle cx="412.15" cy="662.18" r="1.5"/><circle cx="413.43" cy="664.12" r="1.5"/><circle cx="414.72" cy="666.69" r="1.5"/><circle cx="416.65" cy="663.47" r="1.5"/><circle cx="410.86" cy="666.69" r="1.5"/><circle cx="397.33" cy="670.56" r="1.5"/><circle cx="397.97" cy="673.14" r="1.5"/><circle cx="403.13" cy="672.49" r="1.5"/><circle cx="406.35" cy="672.49" r="1.5"/><circle cx="408.92" cy="673.14" r="1.5"/><circle cx="410.86" cy="673.39" r="1.5"/><circle cx="412.79" cy="673.14" r="1.5"/><circle cx="419.23" cy="672.49" r="1.5"/><circle cx="406.35" cy="661.54" r="1.5"/><circle cx="409.57" cy="655.74" r="1.5"/><circle cx="416.65" cy="657.67" r="1.5"/></g>
<text x="383.80" y="620.00" font-size="8.0" fill="#2d5f9a" stroke="#2d5f9a" stroke-width="0.24">45</text>
<text x="432.70" y="675.00" font-size="8.0" fill="#c8102e" stroke="#c8102e" stroke-width="0.24">51</text>
<rect x="395.1" y="583.7" width="8.6" height="3.0" fill="#3db549"/>
<rect x="410.70000000000005" y="583.7" width="8.6" height="3.0" fill="#c8102e"/>
<rect x="426.20000000000005" y="583.7" width="8.7" height="3.0" fill="#3db549"/>
<path d="M403.70000000000005 583.7L408.70000000000005 580.1L410.70000000000005 583.7M419.3 583.7L421.5 580.1L426.20000000000005 583.7M403.70000000000005 586.7L415.0 590.3000000000001L426.20000000000005 586.7" fill="none" stroke="#3db549" stroke-width="0.9"/>
<text x="414.60" y="598.60" font-size="8.3" text-anchor="middle" textLength="30.40" lengthAdjust="spacingAndGlyphs" stroke="#231f20" stroke-width="0.24">Cassette</text>
<text x="414.60" y="608.20" font-size="8.3" text-anchor="middle" textLength="17.20" lengthAdjust="spacingAndGlyphs" stroke="#231f20" stroke-width="0.24">exon</text>
<text x="353.80" y="572.80" font-size="9.2" textLength="114.90" lengthAdjust="spacingAndGlyphs" stroke="#231f20" stroke-width="0.24">Mean Ψ <tspan font-style="italic">EVI1</tspan>-r (+)/<tspan font-style="italic">SF3B1</tspan>-mutated</text>
<text x="319.00" y="703.00" font-size="9.2" textLength="115.40" lengthAdjust="spacingAndGlyphs" stroke="#231f20" stroke-width="0.24">Mean Ψ <tspan font-style="italic">EVI1</tspan>-r (+)/<tspan font-style="italic">SF3B1</tspan>-mutated</text>
<text x="282.20" y="513.00" font-size="9.2" text-anchor="middle" textLength="60.00" lengthAdjust="spacingAndGlyphs" transform="rotate(-90 282.20 513.00)" stroke="#231f20" stroke-width="0.24">Mean Ψ <tspan font-style="italic">EVI1</tspan>-r (–)</text>
<text x="292.60" y="513.40" font-size="9.2" text-anchor="middle" textLength="51.00" lengthAdjust="spacingAndGlyphs" transform="rotate(-90 292.60 513.40)" stroke="#231f20" stroke-width="0.24"><tspan font-style="italic">SF3B1</tspan> wildtype</text>
<text x="280.60" y="643.40" font-size="9.2" text-anchor="middle" textLength="59.40" lengthAdjust="spacingAndGlyphs" transform="rotate(-90 280.60 643.40)" stroke="#231f20" stroke-width="0.24">Mean Ψ <tspan font-style="italic">EVI1</tspan>-r (–)</text>
<text x="292.00" y="643.60" font-size="9.2" text-anchor="middle" textLength="50.60" lengthAdjust="spacingAndGlyphs" transform="rotate(-90 292.00 643.60)" stroke="#231f20" stroke-width="0.24"><tspan font-style="italic">SF3B1</tspan> wildtype</text>
<rect x="0.6" y="0.6" width="518.8" height="708.8" fill="none" stroke="#000" stroke-width="1.3"/>
</svg>
</body></html>
